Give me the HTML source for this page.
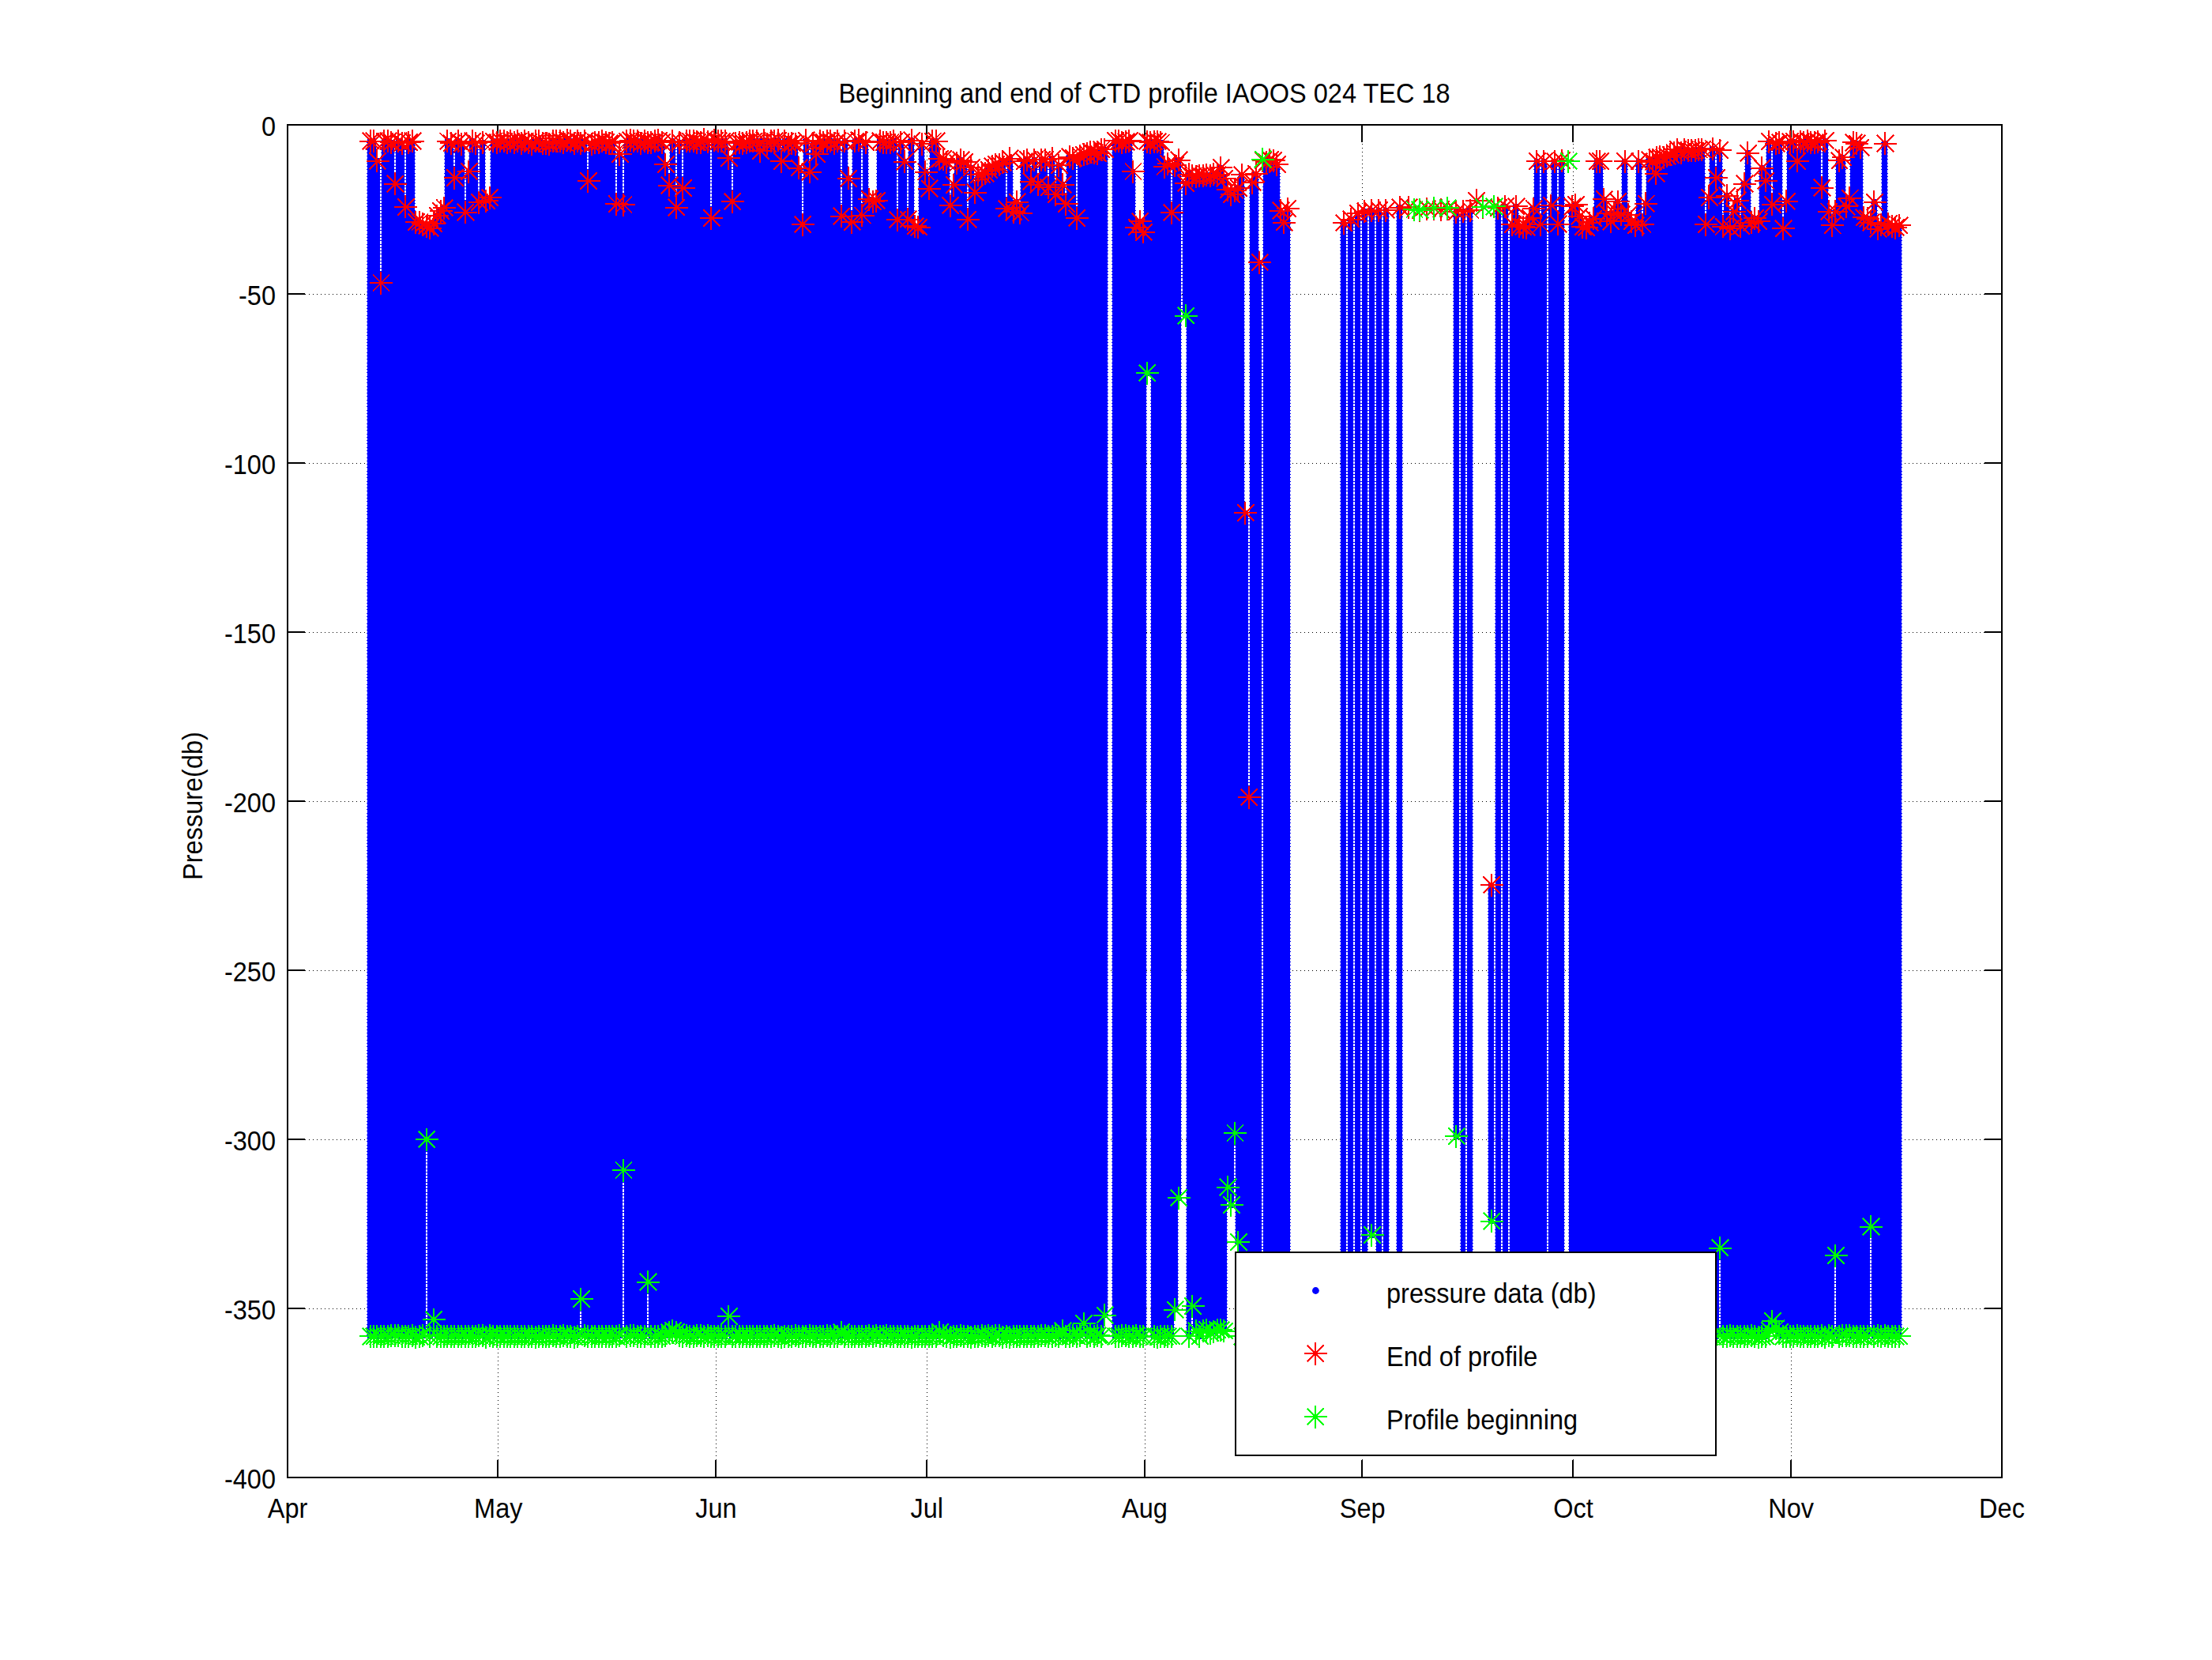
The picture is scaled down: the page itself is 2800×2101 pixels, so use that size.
<!DOCTYPE html>
<html lang="en"><head><meta charset="utf-8"><title>Beginning and end of CTD profile IAOOS 024 TEC 18</title>
<style>html,body{margin:0;padding:0;background:#fff}body{width:2800px;height:2101px;overflow:hidden}svg{display:block}text{font-family:"Liberation Sans",Arial,Helvetica,sans-serif;font-size:35.4px;fill:#000}</style></head><body>
<svg width="2800" height="2101" viewBox="0 0 2800 2101">
<rect width="2800" height="2101" fill="#fff"/>
<path d="M630.5 182V1848M906.5 182V1848M1173.5 182V1848M1449.5 182V1848M1724.5 182V1848M1991.5 182V1848M2267.5 182V1848M386 372.5H2512M386 586.5H2512M386 800.5H2512M386 1014.5H2512M386 1228.5H2512M386 1442.5H2512M386 1656.5H2512" fill="none" stroke="#000" stroke-width="1" stroke-dasharray="1 4" shape-rendering="crispEdges"/>
<rect x="364" y="158" width="2170" height="1712" fill="none" stroke="#000" stroke-width="2" shape-rendering="crispEdges"/>
<path d="M630 158v22M630 1870v-22M906 158v22M906 1870v-22M1173 158v22M1173 1870v-22M1449 158v22M1449 1870v-22M1724 158v22M1724 1870v-22M1991 158v22M1991 1870v-22M2267 158v22M2267 1870v-22M364 372h22M2534 372h-22M364 586h22M2534 586h-22M364 800h22M2534 800h-22M364 1014h22M2534 1014h-22M364 1228h22M2534 1228h-22M364 1442h22M2534 1442h-22M364 1656h22M2534 1656h-22" fill="none" stroke="#000" stroke-width="2" shape-rendering="crispEdges"/>
<defs><pattern id="tk" patternUnits="userSpaceOnUse" width="10" height="30"><rect x="0" y="0" width="10" height="1" fill="#0000ff" shape-rendering="crispEdges"/><rect x="0" y="4.3" width="10" height="1" fill="#0000ff" shape-rendering="crispEdges"/><rect x="0" y="8.6" width="10" height="1" fill="#0000ff" shape-rendering="crispEdges"/><rect x="0" y="12.9" width="10" height="1" fill="#0000ff" shape-rendering="crispEdges"/><rect x="0" y="17.1" width="10" height="1" fill="#0000ff" shape-rendering="crispEdges"/><rect x="0" y="21.4" width="10" height="1" fill="#0000ff" shape-rendering="crispEdges"/><rect x="0" y="25.7" width="10" height="1" fill="#0000ff" shape-rendering="crispEdges"/></pattern></defs>
<path d="M464.1 177.1H472.9V1692.9H464.1ZM468.5 177.1H477.4V1692.9H468.5ZM472.9 202.2H481.8V1692.9H472.9ZM477.4 356.5H486.3V1692.9H477.4ZM481.8 177.1H490.7V1692.9H481.8ZM486.3 177.1H495.2V1692.9H486.3ZM490.7 178.5H499.6V1691.9H490.7ZM495.2 231.1H504.1V1691.9H495.2ZM499.6 177.1H508.5V1691.9H499.6ZM504.1 179.6H513V1692.9H504.1ZM508.5 260.4H517.4V1692.9H508.5ZM513 178.5H521.9V1692.9H513ZM517.4 177.1H526.3V1691.9H517.4ZM521.9 279.5H530.8V1693.9H521.9ZM526.3 279.5H535.2V1692.9H526.3ZM530.8 281.5H539.7V1691.9H530.8ZM535.2 284.5H544.1V1443.5H535.2ZM539.7 287H548.6V1692.9H539.7ZM544.1 281.5H553V1671.5H544.1ZM548.6 271.5H557.5V1692.9H548.6ZM553 265.5H561.9V1692.9H553ZM557.5 261.5H566.4V1692.9H557.5ZM561.9 177.1H570.8V1692.9H561.9ZM566.4 179.6H575.3V1692.9H566.4ZM570.8 223.5H579.7V1692.9H570.8ZM575.3 177.1H584.2V1692.9H575.3ZM579.7 180.7H588.6V1692.9H579.7ZM584.2 267.2H593.1V1692.9H584.2ZM588.6 215.5H597.5V1692.9H588.6ZM593.1 177.1H602V1692.9H593.1ZM597.5 179.6H606.4V1692.9H597.5ZM601.9 254.5H610.8V1691.9H601.9ZM606.4 178.5H615.3V1691.9H606.4ZM610.8 252.5H619.7V1693.9H610.8ZM615.3 248.5H624.2V1691.9H615.3ZM619.7 177.1H628.6V1692.9H619.7ZM624.2 178.5H633.1V1692.9H624.2ZM628.6 177.1H637.5V1692.9H628.6ZM633.1 177.1H642V1692.9H633.1ZM637.5 178.5H646.4V1692.9H637.5ZM642 177.1H650.9V1692.9H642ZM646.4 178.5H655.3V1692.9H646.4ZM650.9 177.1H659.8V1692.9H650.9ZM655.3 179.6H664.2V1692.9H655.3ZM659.8 177.1H668.7V1692.9H659.8ZM664.2 178.5H673.1V1692.9H664.2ZM668.7 180.7H677.6V1692.9H668.7ZM673.1 177.1H682V1693.9H673.1ZM677.6 177.1H686.5V1692.9H677.6ZM682 179.6H690.9V1692.9H682ZM686.5 179.6H695.4V1692.9H686.5ZM690.9 180.7H699.8V1692.9H690.9ZM695.4 177.1H704.3V1691.9H695.4ZM699.8 177.1H708.7V1692.9H699.8ZM704.3 177.1H713.2V1692.9H704.3ZM708.7 178.5H717.6V1691.9H708.7ZM713.2 176.1H722.1V1692.9H713.2ZM717.6 177.1H726.5V1692.9H717.6ZM722.1 179.6H731V1693.9H722.1ZM726.5 177.1H735.4V1692.9H726.5ZM730.9 179.6H739.8V1645.5H730.9ZM735.4 177.1H744.3V1691.9H735.4ZM739.8 227.5H748.7V1692.9H739.8ZM744.3 180.7H753.2V1692.9H744.3ZM748.7 178.5H757.6V1692.9H748.7ZM753.2 178.5H762.1V1692.9H753.2ZM757.6 177.1H766.5V1692.9H757.6ZM762.1 178.5H771V1692.9H762.1ZM766.5 179.6H775.4V1692.9H766.5ZM771 178.5H779.9V1692.9H771ZM775.4 256.5H784.3V1692.9H775.4ZM779.9 193.5H788.8V1691.9H779.9ZM784.3 257.5H793.2V1482.5H784.3ZM788.8 177.1H797.7V1692.9H788.8ZM793.2 176.1H802.1V1691.9H793.2ZM797.7 177.1H806.6V1691.9H797.7ZM802.1 177.1H811V1692.9H802.1ZM806.6 179.6H815.5V1692.9H806.6ZM811 177.1H819.9V1692.9H811ZM815.5 178.5H824.4V1624H815.5ZM819.9 178.5H828.8V1692.9H819.9ZM824.4 177.1H833.3V1692.9H824.4ZM828.8 176.1H837.7V1692.9H828.8ZM833.3 178.5H842.2V1692.9H833.3ZM837.7 206.5H846.6V1691.9H837.7ZM842.2 233H851.1V1687.5H842.2ZM846.6 177.1H855.5V1685.5H846.6ZM851.1 261H860V1687.5H851.1ZM855.5 178.5H864.4V1691.9H855.5ZM859.9 236.5H868.8V1692.9H859.9ZM864.4 177.1H873.3V1691.9H864.4ZM868.8 177.1H877.7V1692.9H868.8ZM873.3 177.1H882.2V1692.9H873.3ZM877.7 178.5H886.6V1691.9H877.7ZM882.2 178.5H891.1V1691.9H882.2ZM886.6 174.6H895.5V1692.9H886.6ZM891.1 178.2H900V1691.9H891.1ZM895.5 274.5H904.4V1692.9H895.5ZM900 176H908.9V1692.9H900ZM904.4 177.1H913.3V1692.9H904.4ZM908.9 177.1H917.8V1692.9H908.9ZM913.3 177.1H922.2V1692.9H913.3ZM917.8 198.5H926.7V1667.5H917.8ZM922.2 253.5H931.1V1692.9H922.2ZM926.7 179.6H935.6V1692.9H926.7ZM931.1 178.5H940V1692.9H931.1ZM935.6 179.6H944.5V1692.9H935.6ZM940 178.5H948.9V1692.9H940ZM944.5 177.1H953.4V1692.9H944.5ZM948.9 177.1H957.8V1692.9H948.9ZM953.4 177.1H962.3V1692.9H953.4ZM957.8 189.5H966.7V1692.9H957.8ZM962.3 176.1H971.2V1692.9H962.3ZM966.7 180.7H975.6V1692.9H966.7ZM971.2 177.1H980.1V1692.9H971.2ZM975.6 177.1H984.5V1691.9H975.6ZM980.1 176.1H989V1692.9H980.1ZM984.5 202.5H993.4V1693.9H984.5ZM988.9 177.1H997.8V1692.9H988.9ZM993.4 180.7H1002.3V1692.9H993.4ZM997.8 179.6H1006.7V1692.9H997.8ZM1002.3 180.7H1011.2V1691.9H1002.3ZM1006.7 211H1015.6V1692.9H1006.7ZM1011.2 282.5H1020.1V1692.9H1011.2ZM1015.6 176.1H1024.5V1692.9H1015.6ZM1020.1 216H1029V1691.9H1020.1ZM1024.5 180.7H1033.4V1692.9H1024.5ZM1029 193.5H1037.9V1692.9H1029ZM1033.4 177.1H1042.3V1692.9H1033.4ZM1037.9 178.5H1046.8V1692.9H1037.9ZM1042.3 177.1H1051.2V1691.9H1042.3ZM1046.8 177.1H1055.7V1692.9H1046.8ZM1051.2 179.6H1060.1V1692.9H1051.2ZM1055.7 177.1H1064.6V1692.9H1055.7ZM1060.1 272.2H1069V1687.5H1060.1ZM1064.6 177.1H1073.5V1692.9H1064.6ZM1069 224.2H1077.9V1692.9H1069ZM1073.5 279.5H1082.4V1692.9H1073.5ZM1077.9 177.1H1086.8V1692.9H1077.9ZM1082.4 176.1H1091.3V1692.9H1082.4ZM1086.8 271H1095.7V1692.9H1086.8ZM1091.3 178.5H1100.2V1692.9H1091.3ZM1095.7 250.5H1104.6V1691.9H1095.7ZM1100.2 253.5H1109.1V1692.9H1100.2ZM1104.6 252.5H1113.5V1691.9H1104.6ZM1109.1 177.1H1118V1692.9H1109.1ZM1113.5 178.5H1122.4V1692.9H1113.5ZM1118 178.5H1126.9V1691.9H1118ZM1122.4 178.5H1131.3V1692.9H1122.4ZM1126.8 177.1H1135.7V1692.9H1126.8ZM1131.3 276.5H1140.2V1692.9H1131.3ZM1135.7 178.5H1144.6V1692.9H1135.7ZM1140.2 203H1149.1V1692.9H1140.2ZM1144.6 276H1153.5V1692.9H1144.6ZM1149.1 176.1H1158V1693.9H1149.1ZM1153.5 284.5H1162.4V1692.9H1153.5ZM1158 286H1166.9V1692.9H1158ZM1162.4 180.7H1171.3V1692.9H1162.4ZM1166.9 216H1175.8V1692.9H1166.9ZM1171.3 237.2H1180.2V1692.9H1171.3ZM1175.8 177.1H1184.7V1692.9H1175.8ZM1180.2 177.1H1189.1V1692.9H1180.2ZM1184.7 199.5H1193.6V1687.5H1184.7ZM1189.1 199.5H1198V1691.9H1189.1ZM1193.6 203.5H1202.5V1692.9H1193.6ZM1198 258.5H1206.9V1693.9H1198ZM1202.5 232.5H1211.4V1692.9H1202.5ZM1206.9 204.9H1215.8V1692.9H1206.9ZM1211.4 201H1220.3V1691.9H1211.4ZM1215.8 203.5H1224.7V1692.9H1215.8ZM1220.3 276.3H1229.2V1692.9H1220.3ZM1224.7 210.6H1233.6V1693.9H1224.7ZM1229.2 242.2H1238.1V1692.9H1229.2ZM1233.6 219.5H1242.5V1692.9H1233.6ZM1238.1 219.6H1247V1691.9H1238.1ZM1242.5 218.4H1251.4V1692.9H1242.5ZM1247 213.6H1255.9V1691.9H1247ZM1251.4 208.8H1260.3V1692.9H1251.4ZM1255.8 206.5H1264.7V1691.9H1255.8ZM1260.3 206.7H1269.2V1691.9H1260.3ZM1264.7 204.4H1273.6V1693.9H1264.7ZM1269.2 262.5H1278.1V1692.9H1269.2ZM1273.6 199H1282.5V1693.9H1273.6ZM1278.1 266.9H1287V1692.9H1278.1ZM1282.5 254.2H1291.4V1692.9H1282.5ZM1287 268.1H1295.9V1692.9H1287ZM1291.4 202.9H1300.3V1692.9H1291.4ZM1295.9 200.5H1304.8V1692.9H1295.9ZM1300.3 228.2H1309.2V1692.9H1300.3ZM1304.8 200.5H1313.7V1692.9H1304.8ZM1309.2 232H1318.1V1692.9H1309.2ZM1313.7 200.5H1322.6V1691.9H1313.7ZM1318.1 200.5H1327V1691.9H1318.1ZM1322.6 235.8H1331.5V1692.9H1322.6ZM1327 199.1H1335.9V1692.9H1327ZM1331.5 244.7H1340.4V1691.9H1331.5ZM1335.9 207.5H1344.8V1692.9H1335.9ZM1340.4 232H1349.3V1685.8H1340.4ZM1344.8 256.7H1353.7V1692.9H1344.8ZM1349.3 197.1H1358.2V1692.9H1349.3ZM1353.7 198.5H1362.6V1691.9H1353.7ZM1358.2 274.5H1367.1V1692.9H1358.2ZM1362.6 195.8H1371.5V1691.9H1362.6ZM1367.1 194.4H1376V1676.5H1367.1ZM1371.5 193.1H1380.4V1692.9H1371.5ZM1376 190.6H1384.9V1691.9H1376ZM1380.4 191.7H1389.3V1692.9H1380.4ZM1384.8 192.9H1393.7V1691.9H1384.8ZM1389.3 187.6H1398.2V1692.9H1389.3ZM1393.7 187.7H1402.6V1666H1393.7ZM1407.1 176.5H1416V1692.9H1407.1ZM1411.5 176.5H1420.4V1692.9H1411.5ZM1416 179H1424.9V1691.9H1416ZM1420.4 177.9H1429.3V1691.9H1420.4ZM1424.9 176.5H1433.8V1692.9H1424.9ZM1429.3 215.5H1438.2V1692.9H1429.3ZM1433.8 286H1442.7V1691.9H1433.8ZM1438.2 278.5H1447.1V1692.9H1438.2ZM1442.7 292.2H1451.6V1692.9H1442.7ZM1447.1 177.5H1456V473.5H1447.1ZM1451.6 178.9H1460.5V473.5H1451.6ZM1456 177.5H1464.9V1692.9H1456ZM1460.5 177.5H1469.4V1693.9H1460.5ZM1464.9 178.9H1473.8V1692.9H1464.9ZM1469.4 209.5H1478.3V1692.9H1469.4ZM1473.8 205.5H1482.7V1692.9H1473.8ZM1478.3 267.5H1487.2V1692.9H1478.3ZM1482.7 207.5H1491.6V1659H1482.7ZM1487.2 201H1496.1V1517.5H1487.2ZM1496.1 230.5H1505V401H1496.1ZM1500.5 219.1H1509.4V1692.9H1500.5ZM1505 221.1H1513.9V1654.5H1505ZM1509.4 221.9H1518.3V1686H1509.4ZM1513.8 220.9H1522.7V1692.9H1513.8ZM1518.3 220.6H1527.2V1686H1518.3ZM1522.7 220.3H1531.6V1684.5H1522.7ZM1527.2 221.3H1536.1V1688.5H1527.2ZM1531.6 219.3H1540.5V1687H1531.6ZM1536.1 219.9H1545V1684.5H1536.1ZM1540.5 210.5H1549.4V1684.5H1540.5ZM1545 224H1553.9V1686H1545ZM1549.4 238.5H1558.3V1504H1549.4ZM1553.9 244.5H1562.8V1526.5H1553.9ZM1558.3 239.5H1567.2V1435.5H1558.3ZM1562.8 236.5H1571.7V1573.5H1562.8ZM1567.2 219.5H1576.1V1692.9H1567.2ZM1571.7 647.5H1580.6V1692.9H1571.7ZM1576.1 1007.5H1585V1692.9H1576.1ZM1580.6 229.5H1589.5V1691.9H1580.6ZM1585 218.5H1593.9V1692.9H1585ZM1589.5 330.5H1598.4V1692.9H1589.5ZM1598.4 203.5H1607.3V1692.9H1598.4ZM1602.8 200.5H1611.7V1691.9H1602.8ZM1607.3 201.5H1616.2V1691.9H1607.3ZM1611.7 206.5H1620.6V1692.9H1611.7ZM1616.2 265H1625.1V1692.9H1616.2ZM1620.6 280.1H1629.5V1692.9H1620.6ZM1625.1 262.5H1634V1692.9H1625.1ZM1696.2 280.5H1705.1V1691.9H1696.2ZM1705.1 276H1714V1692.9H1705.1ZM1714 268.5H1722.9V1692.9H1714ZM1722.9 266H1731.8V1691.9H1722.9ZM1731.8 264.5H1740.7V1564.5H1731.8ZM1740.7 264.5H1749.6V1692.9H1740.7ZM1749.6 264.5H1758.5V1692.9H1749.6ZM1767.4 261H1776.3V1692.9H1767.4ZM1838.6 266.5H1847.5V1439.5H1838.6ZM1847.5 266H1856.4V1692.9H1847.5ZM1856.4 264.5H1865.3V1692.9H1856.4ZM1883.1 1118.5H1892V1547H1883.1ZM1892 261.5H1900.9V1692.9H1892ZM1900.9 259.5H1909.8V1692.9H1900.9ZM1909.7 282.5H1918.6V1692.9H1909.7ZM1914.2 259.9H1923.1V1692.9H1914.2ZM1918.6 284.5H1927.5V1691.9H1918.6ZM1923.1 285.5H1932V1691.9H1923.1ZM1927.5 286.5H1936.4V1692.9H1927.5ZM1932 274.5H1940.9V1692.9H1932ZM1936.4 262.5H1945.3V1692.9H1936.4ZM1940.9 202.5H1949.8V1692.9H1940.9ZM1945.3 282.5H1954.2V1691.9H1945.3ZM1949.8 202.5H1958.7V1693.9H1949.8ZM1958.7 258.5H1967.6V1692.9H1958.7ZM1963.1 202.5H1972V1691.9H1963.1ZM1967.6 282H1976.5V1692.9H1967.6ZM1972 201.5H1980.9V1691.9H1972ZM1985.4 259.9H1994.3V1691.9H1985.4ZM1989.8 257.5H1998.7V1692.9H1989.8ZM1994.3 272.5H2003.2V1692.9H1994.3ZM1998.7 285.5H2007.6V1692.9H1998.7ZM2003.2 286.5H2012.1V1692.9H2003.2ZM2007.6 280.5H2016.5V1692.9H2007.6ZM2012.1 275.1H2021V1692.9H2012.1ZM2016.5 202.5H2025.4V1692.9H2016.5ZM2021 202.5H2029.9V1692.9H2021ZM2025.4 250.5H2034.3V1692.9H2025.4ZM2029.9 268.5H2038.8V1691.9H2029.9ZM2034.3 278.9H2043.2V1691.9H2034.3ZM2038.7 268.5H2047.6V1692.9H2038.7ZM2043.2 253.5H2052.1V1692.9H2043.2ZM2047.6 270H2056.5V1692.9H2047.6ZM2052.1 202.5H2061V1692.9H2052.1ZM2056.5 270H2065.4V1692.9H2056.5ZM2061 278.5H2069.9V1692.9H2061ZM2065.4 283.9H2074.3V1691.9H2065.4ZM2069.9 202.9H2078.8V1691.9H2069.9ZM2074.3 282.5H2083.2V1691.9H2074.3ZM2078.8 256.1H2087.7V1692.9H2078.8ZM2083.2 201.1H2092.1V1691.9H2083.2ZM2087.7 203.2H2096.6V1692.9H2087.7ZM2092.1 197.5H2101V1691.9H2092.1ZM2096.6 197.2H2105.5V1692.9H2096.6ZM2101 197.9H2109.9V1692.9H2101ZM2105.5 196.1H2114.4V1691.9H2105.5ZM2109.9 194.3H2118.8V1692.9H2109.9ZM2114.4 191.5H2123.3V1692.9H2114.4ZM2118.8 187.7H2127.7V1692.9H2118.8ZM2123.3 191.6H2132.2V1692.9H2123.3ZM2127.7 187.7H2136.6V1692.9H2127.7ZM2132.2 189.1H2141.1V1691.9H2132.2ZM2136.6 189.1H2145.5V1692.9H2136.6ZM2141.1 189.1H2150V1692.9H2141.1ZM2145.5 187.7H2154.4V1692.9H2145.5ZM2150 187.7H2158.9V1692.9H2150ZM2154.4 282.5H2163.3V1692.9H2154.4ZM2158.9 248.5H2167.8V1693.9H2158.9ZM2163.3 186.5H2172.2V1692.9H2163.3ZM2167.7 223.5H2176.6V1692.9H2167.7ZM2172.2 188.5H2181.1V1581H2172.2ZM2176.6 285.2H2185.5V1692.9H2176.6ZM2181.1 246H2190V1692.9H2181.1ZM2185.5 287.5H2194.4V1691.9H2185.5ZM2190 266.2H2198.9V1692.9H2190ZM2194.4 252.3H2203.3V1692.9H2194.4ZM2198.9 284.5H2207.8V1692.9H2198.9ZM2203.3 231H2212.2V1692.9H2203.3ZM2207.8 192.2H2216.7V1692.9H2207.8ZM2212.2 280.1H2221.1V1691.9H2212.2ZM2216.7 274.5H2225.6V1692.9H2216.7ZM2221.1 278.9H2230V1693.9H2221.1ZM2225.6 211.2H2234.5V1692.9H2225.6ZM2230 227.2H2238.9V1692.9H2230ZM2234.5 177.5H2243.4V1685.5H2234.5ZM2238.9 257.4H2247.8V1673.5H2238.9ZM2243.4 180H2252.3V1682.5H2243.4ZM2247.8 178.9H2256.7V1687.5H2247.8ZM2252.3 287.7H2261.2V1692.9H2252.3ZM2256.7 253.3H2265.6V1692.9H2256.7ZM2261.2 177.5H2270.1V1692.9H2261.2ZM2265.6 177.5H2274.5V1692.9H2265.6ZM2270.1 202.3H2279V1691.9H2270.1ZM2274.5 177.5H2283.4V1692.9H2274.5ZM2279 178.9H2287.9V1692.9H2279ZM2283.4 176.5H2292.3V1692.9H2283.4ZM2287.9 178.9H2296.8V1692.9H2287.9ZM2292.3 178.9H2301.2V1692.9H2292.3ZM2296.7 177.5H2305.6V1692.9H2296.7ZM2301.2 236.1H2310.1V1691.9H2301.2ZM2305.6 176.5H2314.5V1693.9H2305.6ZM2310.1 266.2H2319V1691.9H2310.1ZM2314.5 283.7H2323.4V1692.9H2314.5ZM2319 266.2H2327.9V1590.5H2319ZM2323.4 201.7H2332.3V1692.9H2323.4ZM2327.9 197.9H2336.8V1691.9H2327.9ZM2332.3 259.9H2341.2V1691.9H2332.3ZM2336.8 249.1H2345.7V1691.9H2336.8ZM2341.2 178.9H2350.1V1692.9H2341.2ZM2345.7 180.1H2354.6V1692.9H2345.7ZM2350.1 185.2H2359V1692.9H2350.1ZM2354.6 273.8H2363.5V1692.9H2354.6ZM2359 275.1H2367.9V1692.9H2359ZM2363.5 280.1H2372.4V1554H2363.5ZM2367.9 254.2H2376.8V1692.9H2367.9ZM2372.4 288.4H2381.3V1691.9H2372.4ZM2376.8 282.7H2385.7V1692.9H2376.8ZM2381.3 180.1H2390.2V1691.9H2381.3ZM2385.7 281.5H2394.6V1692.9H2385.7ZM2390.2 284.5H2399.1V1692.9H2390.2ZM2394.6 286.5H2403.5V1692.9H2394.6ZM2399.1 283.9H2408V1692.9H2399.1Z" fill="url(#tk)" shape-rendering="crispEdges"/>
<path d="M465.1 175.1H471.9V1694.9H465.1ZM469.5 175.1H476.4V1694.9H469.5ZM473.9 200.2H480.8V1694.9H473.9ZM478.4 354.5H485.3V1694.9H478.4ZM482.8 175.1H489.7V1694.9H482.8ZM487.3 175.1H494.2V1694.9H487.3ZM491.7 176.5H498.6V1693.9H491.7ZM496.2 229.1H503.1V1693.9H496.2ZM500.6 175.1H507.5V1693.9H500.6ZM505.1 177.6H512V1694.9H505.1ZM509.5 258.4H516.4V1694.9H509.5ZM514 176.5H520.9V1694.9H514ZM518.4 175.1H525.3V1693.9H518.4ZM522.9 277.5H529.8V1695.9H522.9ZM527.3 277.5H534.2V1694.9H527.3ZM531.8 279.5H538.7V1693.9H531.8ZM536.2 282.5H543.1V1445.5H536.2ZM540.7 285H547.6V1694.9H540.7ZM545.1 279.5H552V1673.5H545.1ZM549.6 269.5H556.5V1694.9H549.6ZM554 263.5H560.9V1694.9H554ZM558.5 259.5H565.4V1694.9H558.5ZM562.9 175.1H569.8V1694.9H562.9ZM567.4 177.6H574.3V1694.9H567.4ZM571.8 221.5H578.7V1694.9H571.8ZM576.3 175.1H583.2V1694.9H576.3ZM580.7 178.7H587.6V1694.9H580.7ZM585.2 265.2H592.1V1694.9H585.2ZM589.6 213.5H596.5V1694.9H589.6ZM594.1 175.1H601V1694.9H594.1ZM598.5 177.6H605.4V1694.9H598.5ZM602.9 252.5H609.8V1693.9H602.9ZM607.4 176.5H614.3V1693.9H607.4ZM611.8 250.5H618.7V1695.9H611.8ZM616.3 246.5H623.2V1693.9H616.3ZM620.7 175.1H627.6V1694.9H620.7ZM625.2 176.5H632.1V1694.9H625.2ZM629.6 175.1H636.5V1694.9H629.6ZM634.1 175.1H641V1694.9H634.1ZM638.5 176.5H645.4V1694.9H638.5ZM643 175.1H649.9V1694.9H643ZM647.4 176.5H654.3V1694.9H647.4ZM651.9 175.1H658.8V1694.9H651.9ZM656.3 177.6H663.2V1694.9H656.3ZM660.8 175.1H667.7V1694.9H660.8ZM665.2 176.5H672.1V1694.9H665.2ZM669.7 178.7H676.6V1694.9H669.7ZM674.1 175.1H681V1695.9H674.1ZM678.6 175.1H685.5V1694.9H678.6ZM683 177.6H689.9V1694.9H683ZM687.5 177.6H694.4V1694.9H687.5ZM691.9 178.7H698.8V1694.9H691.9ZM696.4 175.1H703.3V1693.9H696.4ZM700.8 175.1H707.7V1694.9H700.8ZM705.3 175.1H712.2V1694.9H705.3ZM709.7 176.5H716.6V1693.9H709.7ZM714.2 174.1H721.1V1694.9H714.2ZM718.6 175.1H725.5V1694.9H718.6ZM723.1 177.6H730V1695.9H723.1ZM727.5 175.1H734.4V1694.9H727.5ZM731.9 177.6H738.8V1647.5H731.9ZM736.4 175.1H743.3V1693.9H736.4ZM740.8 225.5H747.7V1694.9H740.8ZM745.3 178.7H752.2V1694.9H745.3ZM749.7 176.5H756.6V1694.9H749.7ZM754.2 176.5H761.1V1694.9H754.2ZM758.6 175.1H765.5V1694.9H758.6ZM763.1 176.5H770V1694.9H763.1ZM767.5 177.6H774.4V1694.9H767.5ZM772 176.5H778.9V1694.9H772ZM776.4 254.5H783.3V1694.9H776.4ZM780.9 191.5H787.8V1693.9H780.9ZM785.3 255.5H792.2V1484.5H785.3ZM789.8 175.1H796.7V1694.9H789.8ZM794.2 174.1H801.1V1693.9H794.2ZM798.7 175.1H805.6V1693.9H798.7ZM803.1 175.1H810V1694.9H803.1ZM807.6 177.6H814.5V1694.9H807.6ZM812 175.1H818.9V1694.9H812ZM816.5 176.5H823.4V1626H816.5ZM820.9 176.5H827.8V1694.9H820.9ZM825.4 175.1H832.3V1694.9H825.4ZM829.8 174.1H836.7V1694.9H829.8ZM834.3 176.5H841.2V1694.9H834.3ZM838.7 204.5H845.6V1693.9H838.7ZM843.2 231H850.1V1689.5H843.2ZM847.6 175.1H854.5V1687.5H847.6ZM852.1 259H859V1689.5H852.1ZM856.5 176.5H863.4V1693.9H856.5ZM860.9 234.5H867.8V1694.9H860.9ZM865.4 175.1H872.3V1693.9H865.4ZM869.8 175.1H876.7V1694.9H869.8ZM874.3 175.1H881.2V1694.9H874.3ZM878.7 176.5H885.6V1693.9H878.7ZM883.2 176.5H890.1V1693.9H883.2ZM887.6 172.6H894.5V1694.9H887.6ZM892.1 176.2H899V1693.9H892.1ZM896.5 272.5H903.4V1694.9H896.5ZM901 174H907.9V1694.9H901ZM905.4 175.1H912.3V1694.9H905.4ZM909.9 175.1H916.8V1694.9H909.9ZM914.3 175.1H921.2V1694.9H914.3ZM918.8 196.5H925.7V1669.5H918.8ZM923.2 251.5H930.1V1694.9H923.2ZM927.7 177.6H934.6V1694.9H927.7ZM932.1 176.5H939V1694.9H932.1ZM936.6 177.6H943.5V1694.9H936.6ZM941 176.5H947.9V1694.9H941ZM945.5 175.1H952.4V1694.9H945.5ZM949.9 175.1H956.8V1694.9H949.9ZM954.4 175.1H961.3V1694.9H954.4ZM958.8 187.5H965.7V1694.9H958.8ZM963.3 174.1H970.2V1694.9H963.3ZM967.7 178.7H974.6V1694.9H967.7ZM972.2 175.1H979.1V1694.9H972.2ZM976.6 175.1H983.5V1693.9H976.6ZM981.1 174.1H988V1694.9H981.1ZM985.5 200.5H992.4V1695.9H985.5ZM989.9 175.1H996.8V1694.9H989.9ZM994.4 178.7H1001.3V1694.9H994.4ZM998.8 177.6H1005.7V1694.9H998.8ZM1003.3 178.7H1010.2V1693.9H1003.3ZM1007.7 209H1014.6V1694.9H1007.7ZM1012.2 280.5H1019.1V1694.9H1012.2ZM1016.6 174.1H1023.5V1694.9H1016.6ZM1021.1 214H1028V1693.9H1021.1ZM1025.5 178.7H1032.4V1694.9H1025.5ZM1030 191.5H1036.9V1694.9H1030ZM1034.4 175.1H1041.3V1694.9H1034.4ZM1038.9 176.5H1045.8V1694.9H1038.9ZM1043.3 175.1H1050.2V1693.9H1043.3ZM1047.8 175.1H1054.7V1694.9H1047.8ZM1052.2 177.6H1059.1V1694.9H1052.2ZM1056.7 175.1H1063.6V1694.9H1056.7ZM1061.1 270.2H1068V1689.5H1061.1ZM1065.6 175.1H1072.5V1694.9H1065.6ZM1070 222.2H1076.9V1694.9H1070ZM1074.5 277.5H1081.4V1694.9H1074.5ZM1078.9 175.1H1085.8V1694.9H1078.9ZM1083.4 174.1H1090.3V1694.9H1083.4ZM1087.8 269H1094.7V1694.9H1087.8ZM1092.3 176.5H1099.2V1694.9H1092.3ZM1096.7 248.5H1103.6V1693.9H1096.7ZM1101.2 251.5H1108.1V1694.9H1101.2ZM1105.6 250.5H1112.5V1693.9H1105.6ZM1110.1 175.1H1117V1694.9H1110.1ZM1114.5 176.5H1121.4V1694.9H1114.5ZM1119 176.5H1125.9V1693.9H1119ZM1123.4 176.5H1130.3V1694.9H1123.4ZM1127.8 175.1H1134.7V1694.9H1127.8ZM1132.3 274.5H1139.2V1694.9H1132.3ZM1136.7 176.5H1143.6V1694.9H1136.7ZM1141.2 201H1148.1V1694.9H1141.2ZM1145.6 274H1152.5V1694.9H1145.6ZM1150.1 174.1H1157V1695.9H1150.1ZM1154.5 282.5H1161.4V1694.9H1154.5ZM1159 284H1165.9V1694.9H1159ZM1163.4 178.7H1170.3V1694.9H1163.4ZM1167.9 214H1174.8V1694.9H1167.9ZM1172.3 235.2H1179.2V1694.9H1172.3ZM1176.8 175.1H1183.7V1694.9H1176.8ZM1181.2 175.1H1188.1V1694.9H1181.2ZM1185.7 197.5H1192.6V1689.5H1185.7ZM1190.1 197.5H1197V1693.9H1190.1ZM1194.6 201.5H1201.5V1694.9H1194.6ZM1199 256.5H1205.9V1695.9H1199ZM1203.5 230.5H1210.4V1694.9H1203.5ZM1207.9 202.9H1214.8V1694.9H1207.9ZM1212.4 199H1219.3V1693.9H1212.4ZM1216.8 201.5H1223.7V1694.9H1216.8ZM1221.3 274.3H1228.2V1694.9H1221.3ZM1225.7 208.6H1232.6V1695.9H1225.7ZM1230.2 240.2H1237.1V1694.9H1230.2ZM1234.6 217.5H1241.5V1694.9H1234.6ZM1239.1 217.6H1246V1693.9H1239.1ZM1243.5 216.4H1250.4V1694.9H1243.5ZM1248 211.6H1254.9V1693.9H1248ZM1252.4 206.8H1259.3V1694.9H1252.4ZM1256.8 204.5H1263.7V1693.9H1256.8ZM1261.3 204.7H1268.2V1693.9H1261.3ZM1265.7 202.4H1272.6V1695.9H1265.7ZM1270.2 260.5H1277.1V1694.9H1270.2ZM1274.6 197H1281.5V1695.9H1274.6ZM1279.1 264.9H1286V1694.9H1279.1ZM1283.5 252.2H1290.4V1694.9H1283.5ZM1288 266.1H1294.9V1694.9H1288ZM1292.4 200.9H1299.3V1694.9H1292.4ZM1296.9 198.5H1303.8V1694.9H1296.9ZM1301.3 226.2H1308.2V1694.9H1301.3ZM1305.8 198.5H1312.7V1694.9H1305.8ZM1310.2 230H1317.1V1694.9H1310.2ZM1314.7 198.5H1321.6V1693.9H1314.7ZM1319.1 198.5H1326V1693.9H1319.1ZM1323.6 233.8H1330.5V1694.9H1323.6ZM1328 197.1H1334.9V1694.9H1328ZM1332.5 242.7H1339.4V1693.9H1332.5ZM1336.9 205.5H1343.8V1694.9H1336.9ZM1341.4 230H1348.3V1687.8H1341.4ZM1345.8 254.7H1352.7V1694.9H1345.8ZM1350.3 195.1H1357.2V1694.9H1350.3ZM1354.7 196.5H1361.6V1693.9H1354.7ZM1359.2 272.5H1366.1V1694.9H1359.2ZM1363.6 193.8H1370.5V1693.9H1363.6ZM1368.1 192.4H1375V1678.5H1368.1ZM1372.5 191.1H1379.4V1694.9H1372.5ZM1377 188.6H1383.9V1693.9H1377ZM1381.4 189.7H1388.3V1694.9H1381.4ZM1385.8 190.9H1392.7V1693.9H1385.8ZM1390.3 185.6H1397.2V1694.9H1390.3ZM1394.7 185.7H1401.6V1668H1394.7ZM1408.1 174.5H1415V1694.9H1408.1ZM1412.5 174.5H1419.4V1694.9H1412.5ZM1417 177H1423.9V1693.9H1417ZM1421.4 175.9H1428.3V1693.9H1421.4ZM1425.9 174.5H1432.8V1694.9H1425.9ZM1430.3 213.5H1437.2V1694.9H1430.3ZM1434.8 284H1441.7V1693.9H1434.8ZM1439.2 276.5H1446.1V1694.9H1439.2ZM1443.7 290.2H1450.6V1694.9H1443.7ZM1448.1 175.5H1455V475.5H1448.1ZM1452.6 176.9H1459.5V475.5H1452.6ZM1457 175.5H1463.9V1694.9H1457ZM1461.5 175.5H1468.4V1695.9H1461.5ZM1465.9 176.9H1472.8V1694.9H1465.9ZM1470.4 207.5H1477.3V1694.9H1470.4ZM1474.8 203.5H1481.7V1694.9H1474.8ZM1479.3 265.5H1486.2V1694.9H1479.3ZM1483.7 205.5H1490.6V1661H1483.7ZM1488.2 199H1495.1V1519.5H1488.2ZM1497.1 228.5H1504V403H1497.1ZM1501.5 217.1H1508.4V1694.9H1501.5ZM1506 219.1H1512.9V1656.5H1506ZM1510.4 219.9H1517.3V1688H1510.4ZM1514.8 218.9H1521.7V1694.9H1514.8ZM1519.3 218.6H1526.2V1688H1519.3ZM1523.7 218.3H1530.6V1686.5H1523.7ZM1528.2 219.3H1535.1V1690.5H1528.2ZM1532.6 217.3H1539.5V1689H1532.6ZM1537.1 217.9H1544V1686.5H1537.1ZM1541.5 208.5H1548.4V1686.5H1541.5ZM1546 222H1552.9V1688H1546ZM1550.4 236.5H1557.3V1506H1550.4ZM1554.9 242.5H1561.8V1528.5H1554.9ZM1559.3 237.5H1566.2V1437.5H1559.3ZM1563.8 234.5H1570.7V1575.5H1563.8ZM1568.2 217.5H1575.1V1694.9H1568.2ZM1572.7 645.5H1579.6V1694.9H1572.7ZM1577.1 1005.5H1584V1694.9H1577.1ZM1581.6 227.5H1588.5V1693.9H1581.6ZM1586 216.5H1592.9V1694.9H1586ZM1590.5 328.5H1597.4V1694.9H1590.5ZM1599.4 201.5H1606.3V1694.9H1599.4ZM1603.8 198.5H1610.7V1693.9H1603.8ZM1608.3 199.5H1615.2V1693.9H1608.3ZM1612.7 204.5H1619.6V1694.9H1612.7ZM1617.2 263H1624.1V1694.9H1617.2ZM1621.6 278.1H1628.5V1694.9H1621.6ZM1626.1 260.5H1633V1694.9H1626.1ZM1697.2 278.5H1704.1V1693.9H1697.2ZM1706.1 274H1713V1694.9H1706.1ZM1715 266.5H1721.9V1694.9H1715ZM1723.9 264H1730.8V1693.9H1723.9ZM1732.8 262.5H1739.7V1566.5H1732.8ZM1741.7 262.5H1748.6V1694.9H1741.7ZM1750.6 262.5H1757.5V1694.9H1750.6ZM1768.4 259H1775.3V1694.9H1768.4ZM1839.6 264.5H1846.5V1441.5H1839.6ZM1848.5 264H1855.4V1694.9H1848.5ZM1857.4 262.5H1864.3V1694.9H1857.4ZM1884.1 1116.5H1891V1549H1884.1ZM1893 259.5H1899.9V1694.9H1893ZM1901.9 257.5H1908.8V1694.9H1901.9ZM1910.7 280.5H1917.6V1694.9H1910.7ZM1915.2 257.9H1922.1V1694.9H1915.2ZM1919.6 282.5H1926.5V1693.9H1919.6ZM1924.1 283.5H1931V1693.9H1924.1ZM1928.5 284.5H1935.4V1694.9H1928.5ZM1933 272.5H1939.9V1694.9H1933ZM1937.4 260.5H1944.3V1694.9H1937.4ZM1941.9 200.5H1948.8V1694.9H1941.9ZM1946.3 280.5H1953.2V1693.9H1946.3ZM1950.8 200.5H1957.7V1695.9H1950.8ZM1959.7 256.5H1966.6V1694.9H1959.7ZM1964.1 200.5H1971V1693.9H1964.1ZM1968.6 280H1975.5V1694.9H1968.6ZM1973 199.5H1979.9V1693.9H1973ZM1986.4 257.9H1993.3V1693.9H1986.4ZM1990.8 255.5H1997.7V1694.9H1990.8ZM1995.3 270.5H2002.2V1694.9H1995.3ZM1999.7 283.5H2006.6V1694.9H1999.7ZM2004.2 284.5H2011.1V1694.9H2004.2ZM2008.6 278.5H2015.5V1694.9H2008.6ZM2013.1 273.1H2020V1694.9H2013.1ZM2017.5 200.5H2024.4V1694.9H2017.5ZM2022 200.5H2028.9V1694.9H2022ZM2026.4 248.5H2033.3V1694.9H2026.4ZM2030.9 266.5H2037.8V1693.9H2030.9ZM2035.3 276.9H2042.2V1693.9H2035.3ZM2039.7 266.5H2046.6V1694.9H2039.7ZM2044.2 251.5H2051.1V1694.9H2044.2ZM2048.6 268H2055.5V1694.9H2048.6ZM2053.1 200.5H2060V1694.9H2053.1ZM2057.5 268H2064.4V1694.9H2057.5ZM2062 276.5H2068.9V1694.9H2062ZM2066.4 281.9H2073.3V1693.9H2066.4ZM2070.9 200.9H2077.8V1693.9H2070.9ZM2075.3 280.5H2082.2V1693.9H2075.3ZM2079.8 254.1H2086.7V1694.9H2079.8ZM2084.2 199.1H2091.1V1693.9H2084.2ZM2088.7 201.2H2095.6V1694.9H2088.7ZM2093.1 195.5H2100V1693.9H2093.1ZM2097.6 195.2H2104.5V1694.9H2097.6ZM2102 195.9H2108.9V1694.9H2102ZM2106.5 194.1H2113.4V1693.9H2106.5ZM2110.9 192.3H2117.8V1694.9H2110.9ZM2115.4 189.5H2122.3V1694.9H2115.4ZM2119.8 185.7H2126.7V1694.9H2119.8ZM2124.3 189.6H2131.2V1694.9H2124.3ZM2128.7 185.7H2135.6V1694.9H2128.7ZM2133.2 187.1H2140.1V1693.9H2133.2ZM2137.6 187.1H2144.5V1694.9H2137.6ZM2142.1 187.1H2149V1694.9H2142.1ZM2146.5 185.7H2153.4V1694.9H2146.5ZM2151 185.7H2157.9V1694.9H2151ZM2155.4 280.5H2162.3V1694.9H2155.4ZM2159.9 246.5H2166.8V1695.9H2159.9ZM2164.3 184.5H2171.2V1694.9H2164.3ZM2168.7 221.5H2175.6V1694.9H2168.7ZM2173.2 186.5H2180.1V1583H2173.2ZM2177.6 283.2H2184.5V1694.9H2177.6ZM2182.1 244H2189V1694.9H2182.1ZM2186.5 285.5H2193.4V1693.9H2186.5ZM2191 264.2H2197.9V1694.9H2191ZM2195.4 250.3H2202.3V1694.9H2195.4ZM2199.9 282.5H2206.8V1694.9H2199.9ZM2204.3 229H2211.2V1694.9H2204.3ZM2208.8 190.2H2215.7V1694.9H2208.8ZM2213.2 278.1H2220.1V1693.9H2213.2ZM2217.7 272.5H2224.6V1694.9H2217.7ZM2222.1 276.9H2229V1695.9H2222.1ZM2226.6 209.2H2233.5V1694.9H2226.6ZM2231 225.2H2237.9V1694.9H2231ZM2235.5 175.5H2242.4V1687.5H2235.5ZM2239.9 255.4H2246.8V1675.5H2239.9ZM2244.4 178H2251.3V1684.5H2244.4ZM2248.8 176.9H2255.7V1689.5H2248.8ZM2253.3 285.7H2260.2V1694.9H2253.3ZM2257.7 251.3H2264.6V1694.9H2257.7ZM2262.2 175.5H2269.1V1694.9H2262.2ZM2266.6 175.5H2273.5V1694.9H2266.6ZM2271.1 200.3H2278V1693.9H2271.1ZM2275.5 175.5H2282.4V1694.9H2275.5ZM2280 176.9H2286.9V1694.9H2280ZM2284.4 174.5H2291.3V1694.9H2284.4ZM2288.9 176.9H2295.8V1694.9H2288.9ZM2293.3 176.9H2300.2V1694.9H2293.3ZM2297.7 175.5H2304.6V1694.9H2297.7ZM2302.2 234.1H2309.1V1693.9H2302.2ZM2306.6 174.5H2313.5V1695.9H2306.6ZM2311.1 264.2H2318V1693.9H2311.1ZM2315.5 281.7H2322.4V1694.9H2315.5ZM2320 264.2H2326.9V1592.5H2320ZM2324.4 199.7H2331.3V1694.9H2324.4ZM2328.9 195.9H2335.8V1693.9H2328.9ZM2333.3 257.9H2340.2V1693.9H2333.3ZM2337.8 247.1H2344.7V1693.9H2337.8ZM2342.2 176.9H2349.1V1694.9H2342.2ZM2346.7 178.1H2353.6V1694.9H2346.7ZM2351.1 183.2H2358V1694.9H2351.1ZM2355.6 271.8H2362.5V1694.9H2355.6ZM2360 273.1H2366.9V1694.9H2360ZM2364.5 278.1H2371.4V1556H2364.5ZM2368.9 252.2H2375.8V1694.9H2368.9ZM2373.4 286.4H2380.3V1693.9H2373.4ZM2377.8 280.7H2384.7V1694.9H2377.8ZM2382.3 178.1H2389.2V1693.9H2382.3ZM2386.7 279.5H2393.6V1694.9H2386.7ZM2391.2 282.5H2398.1V1694.9H2391.2ZM2395.6 284.5H2402.5V1694.9H2395.6ZM2400.1 281.9H2407V1694.9H2400.1Z" fill="#0000ff" shape-rendering="crispEdges"/>
<path d="M454.7 178.6h29M468.5 164.1v29M458.6 168l21.2 21.2M458.6 189.2l21.2 -21.2M459.1 178.6h29M472.9 164.1v29M463 168l21.2 21.2M463 189.2l21.2 -21.2M463.6 203.7h29M477.4 189.2v29M467.5 193.1l21.2 21.2M467.5 214.3l21.2 -21.2M468 358h29M481.8 343.5v29M471.9 347.4l21.2 21.2M471.9 368.6l21.2 -21.2M472.5 178.6h29M486.3 164.1v29M476.4 168l21.2 21.2M476.4 189.2l21.2 -21.2M476.9 178.6h29M490.7 164.1v29M480.8 168l21.2 21.2M480.8 189.2l21.2 -21.2M481.4 180h29M495.2 165.5v29M485.3 169.4l21.2 21.2M485.3 190.6l21.2 -21.2M485.8 232.6h29M499.6 218.1v29M489.7 222l21.2 21.2M489.7 243.2l21.2 -21.2M490.3 178.6h29M504.1 164.1v29M494.2 168l21.2 21.2M494.2 189.2l21.2 -21.2M494.7 181.1h29M508.5 166.6v29M498.6 170.5l21.2 21.2M498.6 191.7l21.2 -21.2M499.2 261.9h29M513 247.4v29M503.1 251.3l21.2 21.2M503.1 272.5l21.2 -21.2M503.6 180h29M517.4 165.5v29M507.5 169.4l21.2 21.2M507.5 190.6l21.2 -21.2M508.1 178.6h29M521.9 164.1v29M512 168l21.2 21.2M512 189.2l21.2 -21.2M512.5 281h29M526.3 266.5v29M516.4 270.4l21.2 21.2M516.4 291.6l21.2 -21.2M517 281h29M530.8 266.5v29M520.9 270.4l21.2 21.2M520.9 291.6l21.2 -21.2M521.4 283h29M535.2 268.5v29M525.3 272.4l21.2 21.2M525.3 293.6l21.2 -21.2M525.9 286h29M539.7 271.5v29M529.8 275.4l21.2 21.2M529.8 296.6l21.2 -21.2M530.3 288.5h29M544.1 274v29M534.2 277.9l21.2 21.2M534.2 299.1l21.2 -21.2M534.8 283h29M548.6 268.5v29M538.7 272.4l21.2 21.2M538.7 293.6l21.2 -21.2M539.2 273h29M553 258.5v29M543.1 262.4l21.2 21.2M543.1 283.6l21.2 -21.2M543.7 267h29M557.5 252.5v29M547.6 256.4l21.2 21.2M547.6 277.6l21.2 -21.2M548.1 263h29M561.9 248.5v29M552 252.4l21.2 21.2M552 273.6l21.2 -21.2M552.6 178.6h29M566.4 164.1v29M556.5 168l21.2 21.2M556.5 189.2l21.2 -21.2M557 181.1h29M570.8 166.6v29M560.9 170.5l21.2 21.2M560.9 191.7l21.2 -21.2M561.5 225h29M575.3 210.5v29M565.4 214.4l21.2 21.2M565.4 235.6l21.2 -21.2M565.9 178.6h29M579.7 164.1v29M569.8 168l21.2 21.2M569.8 189.2l21.2 -21.2M570.4 182.2h29M584.2 167.7v29M574.3 171.6l21.2 21.2M574.3 192.8l21.2 -21.2M574.8 268.8h29M588.6 254.2v29M578.7 258.1l21.2 21.2M578.7 279.4l21.2 -21.2M579.3 217h29M593.1 202.5v29M583.2 206.4l21.2 21.2M583.2 227.6l21.2 -21.2M583.7 178.6h29M597.5 164.1v29M587.6 168l21.2 21.2M587.6 189.2l21.2 -21.2M588.1 181.1h29M601.9 166.6v29M592 170.5l21.2 21.2M592 191.7l21.2 -21.2M592.6 256h29M606.4 241.5v29M596.5 245.4l21.2 21.2M596.5 266.6l21.2 -21.2M597 180h29M610.8 165.5v29M600.9 169.4l21.2 21.2M600.9 190.6l21.2 -21.2M601.5 254h29M615.3 239.5v29M605.4 243.4l21.2 21.2M605.4 264.6l21.2 -21.2M605.9 250h29M619.7 235.5v29M609.8 239.4l21.2 21.2M609.8 260.6l21.2 -21.2M610.4 178.6h29M624.2 164.1v29M614.3 168l21.2 21.2M614.3 189.2l21.2 -21.2M614.8 180h29M628.6 165.5v29M618.7 169.4l21.2 21.2M618.7 190.6l21.2 -21.2M619.3 178.6h29M633.1 164.1v29M623.2 168l21.2 21.2M623.2 189.2l21.2 -21.2M623.7 178.6h29M637.5 164.1v29M627.6 168l21.2 21.2M627.6 189.2l21.2 -21.2M628.2 180h29M642 165.5v29M632.1 169.4l21.2 21.2M632.1 190.6l21.2 -21.2M632.6 178.6h29M646.4 164.1v29M636.5 168l21.2 21.2M636.5 189.2l21.2 -21.2M637.1 180h29M650.9 165.5v29M641 169.4l21.2 21.2M641 190.6l21.2 -21.2M641.5 178.6h29M655.3 164.1v29M645.4 168l21.2 21.2M645.4 189.2l21.2 -21.2M646 181.1h29M659.8 166.6v29M649.9 170.5l21.2 21.2M649.9 191.7l21.2 -21.2M650.4 178.6h29M664.2 164.1v29M654.3 168l21.2 21.2M654.3 189.2l21.2 -21.2M654.9 180h29M668.7 165.5v29M658.8 169.4l21.2 21.2M658.8 190.6l21.2 -21.2M659.3 182.2h29M673.1 167.7v29M663.2 171.6l21.2 21.2M663.2 192.8l21.2 -21.2M663.8 178.6h29M677.6 164.1v29M667.7 168l21.2 21.2M667.7 189.2l21.2 -21.2M668.2 178.6h29M682 164.1v29M672.1 168l21.2 21.2M672.1 189.2l21.2 -21.2M672.7 181.1h29M686.5 166.6v29M676.6 170.5l21.2 21.2M676.6 191.7l21.2 -21.2M677.1 181.1h29M690.9 166.6v29M681 170.5l21.2 21.2M681 191.7l21.2 -21.2M681.6 182.2h29M695.4 167.7v29M685.5 171.6l21.2 21.2M685.5 192.8l21.2 -21.2M686 178.6h29M699.8 164.1v29M689.9 168l21.2 21.2M689.9 189.2l21.2 -21.2M690.5 178.6h29M704.3 164.1v29M694.4 168l21.2 21.2M694.4 189.2l21.2 -21.2M694.9 178.6h29M708.7 164.1v29M698.8 168l21.2 21.2M698.8 189.2l21.2 -21.2M699.4 180h29M713.2 165.5v29M703.3 169.4l21.2 21.2M703.3 190.6l21.2 -21.2M703.8 177.6h29M717.6 163.1v29M707.7 167l21.2 21.2M707.7 188.2l21.2 -21.2M708.3 178.6h29M722.1 164.1v29M712.2 168l21.2 21.2M712.2 189.2l21.2 -21.2M712.7 181.1h29M726.5 166.6v29M716.6 170.5l21.2 21.2M716.6 191.7l21.2 -21.2M717.1 178.6h29M730.9 164.1v29M721 168l21.2 21.2M721 189.2l21.2 -21.2M721.6 181.1h29M735.4 166.6v29M725.5 170.5l21.2 21.2M725.5 191.7l21.2 -21.2M726 178.6h29M739.8 164.1v29M729.9 168l21.2 21.2M729.9 189.2l21.2 -21.2M730.5 229h29M744.3 214.5v29M734.4 218.4l21.2 21.2M734.4 239.6l21.2 -21.2M734.9 182.2h29M748.7 167.7v29M738.8 171.6l21.2 21.2M738.8 192.8l21.2 -21.2M739.4 180h29M753.2 165.5v29M743.3 169.4l21.2 21.2M743.3 190.6l21.2 -21.2M743.8 180h29M757.6 165.5v29M747.7 169.4l21.2 21.2M747.7 190.6l21.2 -21.2M748.3 178.6h29M762.1 164.1v29M752.2 168l21.2 21.2M752.2 189.2l21.2 -21.2M752.7 180h29M766.5 165.5v29M756.6 169.4l21.2 21.2M756.6 190.6l21.2 -21.2M757.2 181.1h29M771 166.6v29M761.1 170.5l21.2 21.2M761.1 191.7l21.2 -21.2M761.6 180h29M775.4 165.5v29M765.5 169.4l21.2 21.2M765.5 190.6l21.2 -21.2M766.1 258h29M779.9 243.5v29M770 247.4l21.2 21.2M770 268.6l21.2 -21.2M770.5 195h29M784.3 180.5v29M774.4 184.4l21.2 21.2M774.4 205.6l21.2 -21.2M775 259h29M788.8 244.5v29M778.9 248.4l21.2 21.2M778.9 269.6l21.2 -21.2M779.4 178.6h29M793.2 164.1v29M783.3 168l21.2 21.2M783.3 189.2l21.2 -21.2M783.9 177.6h29M797.7 163.1v29M787.8 167l21.2 21.2M787.8 188.2l21.2 -21.2M788.3 178.6h29M802.1 164.1v29M792.2 168l21.2 21.2M792.2 189.2l21.2 -21.2M792.8 178.6h29M806.6 164.1v29M796.7 168l21.2 21.2M796.7 189.2l21.2 -21.2M797.2 181.1h29M811 166.6v29M801.1 170.5l21.2 21.2M801.1 191.7l21.2 -21.2M801.7 178.6h29M815.5 164.1v29M805.6 168l21.2 21.2M805.6 189.2l21.2 -21.2M806.1 180h29M819.9 165.5v29M810 169.4l21.2 21.2M810 190.6l21.2 -21.2M810.6 180h29M824.4 165.5v29M814.5 169.4l21.2 21.2M814.5 190.6l21.2 -21.2M815 178.6h29M828.8 164.1v29M818.9 168l21.2 21.2M818.9 189.2l21.2 -21.2M819.5 177.6h29M833.3 163.1v29M823.4 167l21.2 21.2M823.4 188.2l21.2 -21.2M823.9 180h29M837.7 165.5v29M827.8 169.4l21.2 21.2M827.8 190.6l21.2 -21.2M828.4 208h29M842.2 193.5v29M832.3 197.4l21.2 21.2M832.3 218.6l21.2 -21.2M832.8 234.5h29M846.6 220v29M836.7 223.9l21.2 21.2M836.7 245.1l21.2 -21.2M837.3 178.6h29M851.1 164.1v29M841.2 168l21.2 21.2M841.2 189.2l21.2 -21.2M841.7 262.5h29M855.5 248v29M845.6 251.9l21.2 21.2M845.6 273.1l21.2 -21.2M846.2 180h29M860 165.5v29M850.1 169.4l21.2 21.2M850.1 190.6l21.2 -21.2M850.6 238h29M864.4 223.5v29M854.5 227.4l21.2 21.2M854.5 248.6l21.2 -21.2M855 178.6h29M868.8 164.1v29M858.9 168l21.2 21.2M858.9 189.2l21.2 -21.2M859.5 178.6h29M873.3 164.1v29M863.4 168l21.2 21.2M863.4 189.2l21.2 -21.2M863.9 178.6h29M877.7 164.1v29M867.8 168l21.2 21.2M867.8 189.2l21.2 -21.2M868.4 180h29M882.2 165.5v29M872.3 169.4l21.2 21.2M872.3 190.6l21.2 -21.2M872.8 180h29M886.6 165.5v29M876.7 169.4l21.2 21.2M876.7 190.6l21.2 -21.2M877.3 176.1h29M891.1 161.6v29M881.2 165.5l21.2 21.2M881.2 186.7l21.2 -21.2M881.7 179.7h29M895.5 165.2v29M885.6 169.1l21.2 21.2M885.6 190.3l21.2 -21.2M886.2 276h29M900 261.5v29M890.1 265.4l21.2 21.2M890.1 286.6l21.2 -21.2M890.6 177.5h29M904.4 163v29M894.5 166.9l21.2 21.2M894.5 188.1l21.2 -21.2M895.1 178.6h29M908.9 164.1v29M899 168l21.2 21.2M899 189.2l21.2 -21.2M899.5 178.6h29M913.3 164.1v29M903.4 168l21.2 21.2M903.4 189.2l21.2 -21.2M904 178.6h29M917.8 164.1v29M907.9 168l21.2 21.2M907.9 189.2l21.2 -21.2M908.4 200h29M922.2 185.5v29M912.3 189.4l21.2 21.2M912.3 210.6l21.2 -21.2M912.9 255h29M926.7 240.5v29M916.8 244.4l21.2 21.2M916.8 265.6l21.2 -21.2M917.3 181.1h29M931.1 166.6v29M921.2 170.5l21.2 21.2M921.2 191.7l21.2 -21.2M921.8 180h29M935.6 165.5v29M925.7 169.4l21.2 21.2M925.7 190.6l21.2 -21.2M926.2 181.1h29M940 166.6v29M930.1 170.5l21.2 21.2M930.1 191.7l21.2 -21.2M930.7 180h29M944.5 165.5v29M934.6 169.4l21.2 21.2M934.6 190.6l21.2 -21.2M935.1 178.6h29M948.9 164.1v29M939 168l21.2 21.2M939 189.2l21.2 -21.2M939.6 178.6h29M953.4 164.1v29M943.5 168l21.2 21.2M943.5 189.2l21.2 -21.2M944 178.6h29M957.8 164.1v29M947.9 168l21.2 21.2M947.9 189.2l21.2 -21.2M948.5 191h29M962.3 176.5v29M952.4 180.4l21.2 21.2M952.4 201.6l21.2 -21.2M952.9 177.6h29M966.7 163.1v29M956.8 167l21.2 21.2M956.8 188.2l21.2 -21.2M957.4 182.2h29M971.2 167.7v29M961.3 171.6l21.2 21.2M961.3 192.8l21.2 -21.2M961.8 178.6h29M975.6 164.1v29M965.7 168l21.2 21.2M965.7 189.2l21.2 -21.2M966.3 178.6h29M980.1 164.1v29M970.2 168l21.2 21.2M970.2 189.2l21.2 -21.2M970.7 177.6h29M984.5 163.1v29M974.6 167l21.2 21.2M974.6 188.2l21.2 -21.2M975.2 204h29M989 189.5v29M979.1 193.4l21.2 21.2M979.1 214.6l21.2 -21.2M979.6 178.6h29M993.4 164.1v29M983.5 168l21.2 21.2M983.5 189.2l21.2 -21.2M984 182.2h29M997.8 167.7v29M987.9 171.6l21.2 21.2M987.9 192.8l21.2 -21.2M988.5 181.1h29M1002.3 166.6v29M992.4 170.5l21.2 21.2M992.4 191.7l21.2 -21.2M992.9 182.2h29M1006.7 167.7v29M996.8 171.6l21.2 21.2M996.8 192.8l21.2 -21.2M997.4 212.5h29M1011.2 198v29M1001.3 201.9l21.2 21.2M1001.3 223.1l21.2 -21.2M1001.8 284h29M1015.6 269.5v29M1005.7 273.4l21.2 21.2M1005.7 294.6l21.2 -21.2M1006.3 177.6h29M1020.1 163.1v29M1010.2 167l21.2 21.2M1010.2 188.2l21.2 -21.2M1010.7 217.5h29M1024.5 203v29M1014.6 206.9l21.2 21.2M1014.6 228.1l21.2 -21.2M1015.2 182.2h29M1029 167.7v29M1019.1 171.6l21.2 21.2M1019.1 192.8l21.2 -21.2M1019.6 195h29M1033.4 180.5v29M1023.5 184.4l21.2 21.2M1023.5 205.6l21.2 -21.2M1024.1 178.6h29M1037.9 164.1v29M1028 168l21.2 21.2M1028 189.2l21.2 -21.2M1028.5 180h29M1042.3 165.5v29M1032.4 169.4l21.2 21.2M1032.4 190.6l21.2 -21.2M1033 178.6h29M1046.8 164.1v29M1036.9 168l21.2 21.2M1036.9 189.2l21.2 -21.2M1037.4 178.6h29M1051.2 164.1v29M1041.3 168l21.2 21.2M1041.3 189.2l21.2 -21.2M1041.9 181.1h29M1055.7 166.6v29M1045.8 170.5l21.2 21.2M1045.8 191.7l21.2 -21.2M1046.3 178.6h29M1060.1 164.1v29M1050.2 168l21.2 21.2M1050.2 189.2l21.2 -21.2M1050.8 273.8h29M1064.6 259.2v29M1054.7 263.1l21.2 21.2M1054.7 284.4l21.2 -21.2M1055.2 178.6h29M1069 164.1v29M1059.1 168l21.2 21.2M1059.1 189.2l21.2 -21.2M1059.7 225.8h29M1073.5 211.2v29M1063.6 215.2l21.2 21.2M1063.6 236.3l21.2 -21.2M1064.1 281h29M1077.9 266.5v29M1068 270.4l21.2 21.2M1068 291.6l21.2 -21.2M1068.6 178.6h29M1082.4 164.1v29M1072.5 168l21.2 21.2M1072.5 189.2l21.2 -21.2M1073 177.6h29M1086.8 163.1v29M1076.9 167l21.2 21.2M1076.9 188.2l21.2 -21.2M1077.5 272.5h29M1091.3 258v29M1081.4 261.9l21.2 21.2M1081.4 283.1l21.2 -21.2M1081.9 180h29M1095.7 165.5v29M1085.8 169.4l21.2 21.2M1085.8 190.6l21.2 -21.2M1086.4 252h29M1100.2 237.5v29M1090.3 241.4l21.2 21.2M1090.3 262.6l21.2 -21.2M1090.8 255h29M1104.6 240.5v29M1094.7 244.4l21.2 21.2M1094.7 265.6l21.2 -21.2M1095.3 254h29M1109.1 239.5v29M1099.2 243.4l21.2 21.2M1099.2 264.6l21.2 -21.2M1099.7 178.6h29M1113.5 164.1v29M1103.6 168l21.2 21.2M1103.6 189.2l21.2 -21.2M1104.2 180h29M1118 165.5v29M1108.1 169.4l21.2 21.2M1108.1 190.6l21.2 -21.2M1108.6 180h29M1122.4 165.5v29M1112.5 169.4l21.2 21.2M1112.5 190.6l21.2 -21.2M1113 180h29M1126.8 165.5v29M1116.9 169.4l21.2 21.2M1116.9 190.6l21.2 -21.2M1117.5 178.6h29M1131.3 164.1v29M1121.4 168l21.2 21.2M1121.4 189.2l21.2 -21.2M1121.9 278h29M1135.7 263.5v29M1125.8 267.4l21.2 21.2M1125.8 288.6l21.2 -21.2M1126.4 180h29M1140.2 165.5v29M1130.3 169.4l21.2 21.2M1130.3 190.6l21.2 -21.2M1130.8 204.5h29M1144.6 190v29M1134.7 193.9l21.2 21.2M1134.7 215.1l21.2 -21.2M1135.3 277.5h29M1149.1 263v29M1139.2 266.9l21.2 21.2M1139.2 288.1l21.2 -21.2M1139.7 177.6h29M1153.5 163.1v29M1143.6 167l21.2 21.2M1143.6 188.2l21.2 -21.2M1144.2 286h29M1158 271.5v29M1148.1 275.4l21.2 21.2M1148.1 296.6l21.2 -21.2M1148.6 287.5h29M1162.4 273v29M1152.5 276.9l21.2 21.2M1152.5 298.1l21.2 -21.2M1153.1 182.2h29M1166.9 167.7v29M1157 171.6l21.2 21.2M1157 192.8l21.2 -21.2M1157.5 217.5h29M1171.3 203v29M1161.4 206.9l21.2 21.2M1161.4 228.1l21.2 -21.2M1162 238.8h29M1175.8 224.2v29M1165.9 228.2l21.2 21.2M1165.9 249.3l21.2 -21.2M1166.4 178.6h29M1180.2 164.1v29M1170.3 168l21.2 21.2M1170.3 189.2l21.2 -21.2M1170.9 178.6h29M1184.7 164.1v29M1174.8 168l21.2 21.2M1174.8 189.2l21.2 -21.2M1175.3 201h29M1189.1 186.5v29M1179.2 190.4l21.2 21.2M1179.2 211.6l21.2 -21.2M1179.8 201h29M1193.6 186.5v29M1183.7 190.4l21.2 21.2M1183.7 211.6l21.2 -21.2M1184.2 205h29M1198 190.5v29M1188.1 194.4l21.2 21.2M1188.1 215.6l21.2 -21.2M1188.7 260h29M1202.5 245.5v29M1192.6 249.4l21.2 21.2M1192.6 270.6l21.2 -21.2M1193.1 234h29M1206.9 219.5v29M1197 223.4l21.2 21.2M1197 244.6l21.2 -21.2M1197.6 206.4h29M1211.4 191.9v29M1201.5 195.8l21.2 21.2M1201.5 217l21.2 -21.2M1202 202.5h29M1215.8 188v29M1205.9 191.9l21.2 21.2M1205.9 213.1l21.2 -21.2M1206.5 205h29M1220.3 190.5v29M1210.4 194.4l21.2 21.2M1210.4 215.6l21.2 -21.2M1210.9 277.8h29M1224.7 263.3v29M1214.8 267.2l21.2 21.2M1214.8 288.4l21.2 -21.2M1215.4 212.1h29M1229.2 197.6v29M1219.3 201.5l21.2 21.2M1219.3 222.7l21.2 -21.2M1219.8 243.7h29M1233.6 229.2v29M1223.7 233.1l21.2 21.2M1223.7 254.3l21.2 -21.2M1224.3 221h29M1238.1 206.5v29M1228.2 210.4l21.2 21.2M1228.2 231.6l21.2 -21.2M1228.7 221.1h29M1242.5 206.6v29M1232.6 210.5l21.2 21.2M1232.6 231.7l21.2 -21.2M1233.2 219.9h29M1247 205.4v29M1237.1 209.3l21.2 21.2M1237.1 230.5l21.2 -21.2M1237.6 215.1h29M1251.4 200.6v29M1241.5 204.5l21.2 21.2M1241.5 225.7l21.2 -21.2M1242 210.3h29M1255.8 195.8v29M1245.9 199.7l21.2 21.2M1245.9 220.9l21.2 -21.2M1246.5 208h29M1260.3 193.5v29M1250.4 197.4l21.2 21.2M1250.4 218.6l21.2 -21.2M1250.9 208.2h29M1264.7 193.7v29M1254.8 197.6l21.2 21.2M1254.8 218.8l21.2 -21.2M1255.4 205.9h29M1269.2 191.4v29M1259.3 195.3l21.2 21.2M1259.3 216.5l21.2 -21.2M1259.8 264h29M1273.6 249.5v29M1263.7 253.4l21.2 21.2M1263.7 274.6l21.2 -21.2M1264.3 200.5h29M1278.1 186v29M1268.2 189.9l21.2 21.2M1268.2 211.1l21.2 -21.2M1268.7 268.4h29M1282.5 253.9v29M1272.6 257.8l21.2 21.2M1272.6 279l21.2 -21.2M1273.2 255.7h29M1287 241.2v29M1277.1 245.1l21.2 21.2M1277.1 266.3l21.2 -21.2M1277.6 269.6h29M1291.4 255.1v29M1281.5 259l21.2 21.2M1281.5 280.2l21.2 -21.2M1282.1 204.4h29M1295.9 189.9v29M1286 193.8l21.2 21.2M1286 215l21.2 -21.2M1286.5 202h29M1300.3 187.5v29M1290.4 191.4l21.2 21.2M1290.4 212.6l21.2 -21.2M1291 229.7h29M1304.8 215.2v29M1294.9 219.1l21.2 21.2M1294.9 240.3l21.2 -21.2M1295.4 202h29M1309.2 187.5v29M1299.3 191.4l21.2 21.2M1299.3 212.6l21.2 -21.2M1299.9 233.5h29M1313.7 219v29M1303.8 222.9l21.2 21.2M1303.8 244.1l21.2 -21.2M1304.3 202h29M1318.1 187.5v29M1308.2 191.4l21.2 21.2M1308.2 212.6l21.2 -21.2M1308.8 202h29M1322.6 187.5v29M1312.7 191.4l21.2 21.2M1312.7 212.6l21.2 -21.2M1313.2 237.3h29M1327 222.8v29M1317.1 226.7l21.2 21.2M1317.1 247.9l21.2 -21.2M1317.7 200.6h29M1331.5 186.1v29M1321.6 190l21.2 21.2M1321.6 211.2l21.2 -21.2M1322.1 246.2h29M1335.9 231.7v29M1326 235.6l21.2 21.2M1326 256.8l21.2 -21.2M1326.6 209h29M1340.4 194.5v29M1330.5 198.4l21.2 21.2M1330.5 219.6l21.2 -21.2M1331 233.5h29M1344.8 219v29M1334.9 222.9l21.2 21.2M1334.9 244.1l21.2 -21.2M1335.5 258.2h29M1349.3 243.7v29M1339.4 247.6l21.2 21.2M1339.4 268.8l21.2 -21.2M1339.9 198.6h29M1353.7 184.1v29M1343.8 188l21.2 21.2M1343.8 209.2l21.2 -21.2M1344.4 200h29M1358.2 185.5v29M1348.3 189.4l21.2 21.2M1348.3 210.6l21.2 -21.2M1348.8 276h29M1362.6 261.5v29M1352.7 265.4l21.2 21.2M1352.7 286.6l21.2 -21.2M1353.3 197.3h29M1367.1 182.8v29M1357.2 186.7l21.2 21.2M1357.2 207.9l21.2 -21.2M1357.7 195.9h29M1371.5 181.4v29M1361.6 185.3l21.2 21.2M1361.6 206.5l21.2 -21.2M1362.2 194.6h29M1376 180.1v29M1366.1 184l21.2 21.2M1366.1 205.2l21.2 -21.2M1366.6 192.1h29M1380.4 177.6v29M1370.5 181.5l21.2 21.2M1370.5 202.7l21.2 -21.2M1371 193.2h29M1384.8 178.7v29M1374.9 182.6l21.2 21.2M1374.9 203.8l21.2 -21.2M1375.5 194.4h29M1389.3 179.9v29M1379.4 183.8l21.2 21.2M1379.4 205l21.2 -21.2M1379.9 189.1h29M1393.7 174.6v29M1383.8 178.5l21.2 21.2M1383.8 199.7l21.2 -21.2M1384.4 189.2h29M1398.2 174.7v29M1388.3 178.6l21.2 21.2M1388.3 199.8l21.2 -21.2M1397.7 178h29M1411.5 163.5v29M1401.6 167.4l21.2 21.2M1401.6 188.6l21.2 -21.2M1402.2 178h29M1416 163.5v29M1406.1 167.4l21.2 21.2M1406.1 188.6l21.2 -21.2M1406.6 180.5h29M1420.4 166v29M1410.5 169.9l21.2 21.2M1410.5 191.1l21.2 -21.2M1411.1 179.4h29M1424.9 164.9v29M1415 168.8l21.2 21.2M1415 190l21.2 -21.2M1415.5 178h29M1429.3 163.5v29M1419.4 167.4l21.2 21.2M1419.4 188.6l21.2 -21.2M1420 217h29M1433.8 202.5v29M1423.9 206.4l21.2 21.2M1423.9 227.6l21.2 -21.2M1424.4 287.5h29M1438.2 273v29M1428.3 276.9l21.2 21.2M1428.3 298.1l21.2 -21.2M1428.9 280h29M1442.7 265.5v29M1432.8 269.4l21.2 21.2M1432.8 290.6l21.2 -21.2M1433.3 293.8h29M1447.1 279.2v29M1437.2 283.1l21.2 21.2M1437.2 304.4l21.2 -21.2M1437.8 179h29M1451.6 164.5v29M1441.7 168.4l21.2 21.2M1441.7 189.6l21.2 -21.2M1442.2 180.4h29M1456 165.9v29M1446.1 169.8l21.2 21.2M1446.1 191l21.2 -21.2M1446.7 179h29M1460.5 164.5v29M1450.6 168.4l21.2 21.2M1450.6 189.6l21.2 -21.2M1451.1 179h29M1464.9 164.5v29M1455 168.4l21.2 21.2M1455 189.6l21.2 -21.2M1455.6 180.4h29M1469.4 165.9v29M1459.5 169.8l21.2 21.2M1459.5 191l21.2 -21.2M1460 211h29M1473.8 196.5v29M1463.9 200.4l21.2 21.2M1463.9 221.6l21.2 -21.2M1464.5 207h29M1478.3 192.5v29M1468.4 196.4l21.2 21.2M1468.4 217.6l21.2 -21.2M1468.9 269h29M1482.7 254.5v29M1472.8 258.4l21.2 21.2M1472.8 279.6l21.2 -21.2M1473.4 209h29M1487.2 194.5v29M1477.3 198.4l21.2 21.2M1477.3 219.6l21.2 -21.2M1477.8 202.5h29M1491.6 188v29M1481.7 191.9l21.2 21.2M1481.7 213.1l21.2 -21.2M1486.7 232h29M1500.5 217.5v29M1490.6 221.4l21.2 21.2M1490.6 242.6l21.2 -21.2M1491.2 220.6h29M1505 206.1v29M1495.1 210l21.2 21.2M1495.1 231.2l21.2 -21.2M1495.6 222.6h29M1509.4 208.1v29M1499.5 212l21.2 21.2M1499.5 233.2l21.2 -21.2M1500.1 223.4h29M1513.9 208.9v29M1504 212.8l21.2 21.2M1504 234l21.2 -21.2M1504.5 222.4h29M1518.3 207.9v29M1508.4 211.8l21.2 21.2M1508.4 233l21.2 -21.2M1508.9 222.1h29M1522.7 207.6v29M1512.8 211.5l21.2 21.2M1512.8 232.7l21.2 -21.2M1513.4 221.8h29M1527.2 207.3v29M1517.3 211.2l21.2 21.2M1517.3 232.4l21.2 -21.2M1517.8 222.8h29M1531.6 208.3v29M1521.7 212.2l21.2 21.2M1521.7 233.4l21.2 -21.2M1522.3 220.8h29M1536.1 206.3v29M1526.2 210.2l21.2 21.2M1526.2 231.4l21.2 -21.2M1526.7 221.4h29M1540.5 206.9v29M1530.6 210.8l21.2 21.2M1530.6 232l21.2 -21.2M1531.2 212h29M1545 197.5v29M1535.1 201.4l21.2 21.2M1535.1 222.6l21.2 -21.2M1535.6 225.5h29M1549.4 211v29M1539.5 214.9l21.2 21.2M1539.5 236.1l21.2 -21.2M1540.1 240h29M1553.9 225.5v29M1544 229.4l21.2 21.2M1544 250.6l21.2 -21.2M1544.5 246h29M1558.3 231.5v29M1548.4 235.4l21.2 21.2M1548.4 256.6l21.2 -21.2M1549 241h29M1562.8 226.5v29M1552.9 230.4l21.2 21.2M1552.9 251.6l21.2 -21.2M1553.4 238h29M1567.2 223.5v29M1557.3 227.4l21.2 21.2M1557.3 248.6l21.2 -21.2M1557.9 221h29M1571.7 206.5v29M1561.8 210.4l21.2 21.2M1561.8 231.6l21.2 -21.2M1562.3 649h29M1576.1 634.5v29M1566.2 638.4l21.2 21.2M1566.2 659.6l21.2 -21.2M1566.8 1009h29M1580.6 994.5v29M1570.7 998.4l21.2 21.2M1570.7 1019.6l21.2 -21.2M1571.2 231h29M1585 216.5v29M1575.1 220.4l21.2 21.2M1575.1 241.6l21.2 -21.2M1575.7 220h29M1589.5 205.5v29M1579.6 209.4l21.2 21.2M1579.6 230.6l21.2 -21.2M1580.1 332h29M1593.9 317.5v29M1584 321.4l21.2 21.2M1584 342.6l21.2 -21.2M1589 205h29M1602.8 190.5v29M1592.9 194.4l21.2 21.2M1592.9 215.6l21.2 -21.2M1593.5 202h29M1607.3 187.5v29M1597.4 191.4l21.2 21.2M1597.4 212.6l21.2 -21.2M1597.9 203h29M1611.7 188.5v29M1601.8 192.4l21.2 21.2M1601.8 213.6l21.2 -21.2M1602.4 208h29M1616.2 193.5v29M1606.3 197.4l21.2 21.2M1606.3 218.6l21.2 -21.2M1606.8 266.5h29M1620.6 252v29M1610.7 255.9l21.2 21.2M1610.7 277.1l21.2 -21.2M1611.3 281.6h29M1625.1 267.1v29M1615.2 271l21.2 21.2M1615.2 292.2l21.2 -21.2M1615.7 264h29M1629.5 249.5v29M1619.6 253.4l21.2 21.2M1619.6 274.6l21.2 -21.2M1686.9 282h29M1700.7 267.5v29M1690.8 271.4l21.2 21.2M1690.8 292.6l21.2 -21.2M1695.8 277.5h29M1709.6 263v29M1699.7 266.9l21.2 21.2M1699.7 288.1l21.2 -21.2M1704.7 270h29M1718.5 255.5v29M1708.6 259.4l21.2 21.2M1708.6 280.6l21.2 -21.2M1713.6 267.5h29M1727.4 253v29M1717.5 256.9l21.2 21.2M1717.5 278.1l21.2 -21.2M1722.5 266h29M1736.3 251.5v29M1726.4 255.4l21.2 21.2M1726.4 276.6l21.2 -21.2M1731.4 266h29M1745.2 251.5v29M1735.3 255.4l21.2 21.2M1735.3 276.6l21.2 -21.2M1740.3 266h29M1754.1 251.5v29M1744.2 255.4l21.2 21.2M1744.2 276.6l21.2 -21.2M1758.1 262.5h29M1771.9 248v29M1762 251.9l21.2 21.2M1762 273.1l21.2 -21.2M1829.2 268h29M1843 253.5v29M1833.1 257.4l21.2 21.2M1833.1 278.6l21.2 -21.2M1838.1 267.5h29M1851.9 253v29M1842 256.9l21.2 21.2M1842 278.1l21.2 -21.2M1847 266h29M1860.8 251.5v29M1850.9 255.4l21.2 21.2M1850.9 276.6l21.2 -21.2M1873.7 1120h29M1887.5 1105.5v29M1877.6 1109.4l21.2 21.2M1877.6 1130.6l21.2 -21.2M1882.6 263h29M1896.4 248.5v29M1886.5 252.4l21.2 21.2M1886.5 273.6l21.2 -21.2M1891.5 261h29M1905.3 246.5v29M1895.4 250.4l21.2 21.2M1895.4 271.6l21.2 -21.2M1900.4 284h29M1914.2 269.5v29M1904.3 273.4l21.2 21.2M1904.3 294.6l21.2 -21.2M1904.8 261.4h29M1918.6 246.9v29M1908.7 250.8l21.2 21.2M1908.7 272l21.2 -21.2M1909.3 286h29M1923.1 271.5v29M1913.2 275.4l21.2 21.2M1913.2 296.6l21.2 -21.2M1913.7 287h29M1927.5 272.5v29M1917.6 276.4l21.2 21.2M1917.6 297.6l21.2 -21.2M1918.2 288h29M1932 273.5v29M1922.1 277.4l21.2 21.2M1922.1 298.6l21.2 -21.2M1922.6 276h29M1936.4 261.5v29M1926.5 265.4l21.2 21.2M1926.5 286.6l21.2 -21.2M1927.1 264h29M1940.9 249.5v29M1931 253.4l21.2 21.2M1931 274.6l21.2 -21.2M1931.5 204h29M1945.3 189.5v29M1935.4 193.4l21.2 21.2M1935.4 214.6l21.2 -21.2M1936 284h29M1949.8 269.5v29M1939.9 273.4l21.2 21.2M1939.9 294.6l21.2 -21.2M1940.4 204h29M1954.2 189.5v29M1944.3 193.4l21.2 21.2M1944.3 214.6l21.2 -21.2M1949.3 260h29M1963.1 245.5v29M1953.2 249.4l21.2 21.2M1953.2 270.6l21.2 -21.2M1953.8 204h29M1967.6 189.5v29M1957.7 193.4l21.2 21.2M1957.7 214.6l21.2 -21.2M1958.2 283.5h29M1972 269v29M1962.1 272.9l21.2 21.2M1962.1 294.1l21.2 -21.2M1962.7 203h29M1976.5 188.5v29M1966.6 192.4l21.2 21.2M1966.6 213.6l21.2 -21.2M1976 261.4h29M1989.8 246.9v29M1979.9 250.8l21.2 21.2M1979.9 272l21.2 -21.2M1980.5 259h29M1994.3 244.5v29M1984.4 248.4l21.2 21.2M1984.4 269.6l21.2 -21.2M1984.9 274h29M1998.7 259.5v29M1988.8 263.4l21.2 21.2M1988.8 284.6l21.2 -21.2M1989.4 287h29M2003.2 272.5v29M1993.3 276.4l21.2 21.2M1993.3 297.6l21.2 -21.2M1993.8 288h29M2007.6 273.5v29M1997.7 277.4l21.2 21.2M1997.7 298.6l21.2 -21.2M1998.3 282h29M2012.1 267.5v29M2002.2 271.4l21.2 21.2M2002.2 292.6l21.2 -21.2M2002.7 276.6h29M2016.5 262.1v29M2006.6 266l21.2 21.2M2006.6 287.2l21.2 -21.2M2007.2 204h29M2021 189.5v29M2011.1 193.4l21.2 21.2M2011.1 214.6l21.2 -21.2M2011.6 204h29M2025.4 189.5v29M2015.5 193.4l21.2 21.2M2015.5 214.6l21.2 -21.2M2016.1 252h29M2029.9 237.5v29M2020 241.4l21.2 21.2M2020 262.6l21.2 -21.2M2020.5 270h29M2034.3 255.5v29M2024.4 259.4l21.2 21.2M2024.4 280.6l21.2 -21.2M2024.9 280.4h29M2038.7 265.9v29M2028.8 269.8l21.2 21.2M2028.8 291l21.2 -21.2M2029.4 270h29M2043.2 255.5v29M2033.3 259.4l21.2 21.2M2033.3 280.6l21.2 -21.2M2033.8 255h29M2047.6 240.5v29M2037.7 244.4l21.2 21.2M2037.7 265.6l21.2 -21.2M2038.3 271.5h29M2052.1 257v29M2042.2 260.9l21.2 21.2M2042.2 282.1l21.2 -21.2M2042.7 204h29M2056.5 189.5v29M2046.6 193.4l21.2 21.2M2046.6 214.6l21.2 -21.2M2047.2 271.5h29M2061 257v29M2051.1 260.9l21.2 21.2M2051.1 282.1l21.2 -21.2M2051.6 280h29M2065.4 265.5v29M2055.5 269.4l21.2 21.2M2055.5 290.6l21.2 -21.2M2056.1 285.4h29M2069.9 270.9v29M2060 274.8l21.2 21.2M2060 296l21.2 -21.2M2060.5 204.4h29M2074.3 189.9v29M2064.4 193.8l21.2 21.2M2064.4 215l21.2 -21.2M2065 284h29M2078.8 269.5v29M2068.9 273.4l21.2 21.2M2068.9 294.6l21.2 -21.2M2069.4 257.6h29M2083.2 243.1v29M2073.3 247l21.2 21.2M2073.3 268.2l21.2 -21.2M2073.9 202.6h29M2087.7 188.1v29M2077.8 192l21.2 21.2M2077.8 213.2l21.2 -21.2M2078.3 204.7h29M2092.1 190.2v29M2082.2 194.1l21.2 21.2M2082.2 215.3l21.2 -21.2M2082.8 199h29M2096.6 184.5v29M2086.7 188.4l21.2 21.2M2086.7 209.6l21.2 -21.2M2087.2 198.7h29M2101 184.2v29M2091.1 188.1l21.2 21.2M2091.1 209.3l21.2 -21.2M2091.7 199.4h29M2105.5 184.9v29M2095.6 188.8l21.2 21.2M2095.6 210l21.2 -21.2M2096.1 197.6h29M2109.9 183.1v29M2100 187l21.2 21.2M2100 208.2l21.2 -21.2M2100.6 195.8h29M2114.4 181.3v29M2104.5 185.2l21.2 21.2M2104.5 206.4l21.2 -21.2M2105 193h29M2118.8 178.5v29M2108.9 182.4l21.2 21.2M2108.9 203.6l21.2 -21.2M2109.5 189.2h29M2123.3 174.7v29M2113.4 178.6l21.2 21.2M2113.4 199.8l21.2 -21.2M2113.9 193.1h29M2127.7 178.6v29M2117.8 182.5l21.2 21.2M2117.8 203.7l21.2 -21.2M2118.4 189.2h29M2132.2 174.7v29M2122.3 178.6l21.2 21.2M2122.3 199.8l21.2 -21.2M2122.8 190.6h29M2136.6 176.1v29M2126.7 180l21.2 21.2M2126.7 201.2l21.2 -21.2M2127.3 190.6h29M2141.1 176.1v29M2131.2 180l21.2 21.2M2131.2 201.2l21.2 -21.2M2131.7 190.6h29M2145.5 176.1v29M2135.6 180l21.2 21.2M2135.6 201.2l21.2 -21.2M2136.2 189.2h29M2150 174.7v29M2140.1 178.6l21.2 21.2M2140.1 199.8l21.2 -21.2M2140.6 189.2h29M2154.4 174.7v29M2144.5 178.6l21.2 21.2M2144.5 199.8l21.2 -21.2M2145.1 284h29M2158.9 269.5v29M2149 273.4l21.2 21.2M2149 294.6l21.2 -21.2M2149.5 250h29M2163.3 235.5v29M2153.4 239.4l21.2 21.2M2153.4 260.6l21.2 -21.2M2154 188h29M2167.8 173.5v29M2157.9 177.4l21.2 21.2M2157.9 198.6l21.2 -21.2M2158.4 225h29M2172.2 210.5v29M2162.3 214.4l21.2 21.2M2162.3 235.6l21.2 -21.2M2162.8 190h29M2176.6 175.5v29M2166.7 179.4l21.2 21.2M2166.7 200.6l21.2 -21.2M2167.3 286.7h29M2181.1 272.2v29M2171.2 276.1l21.2 21.2M2171.2 297.3l21.2 -21.2M2171.7 247.5h29M2185.5 233v29M2175.6 236.9l21.2 21.2M2175.6 258.1l21.2 -21.2M2176.2 289h29M2190 274.5v29M2180.1 278.4l21.2 21.2M2180.1 299.6l21.2 -21.2M2180.6 267.7h29M2194.4 253.2v29M2184.5 257.1l21.2 21.2M2184.5 278.3l21.2 -21.2M2185.1 253.8h29M2198.9 239.3v29M2189 243.2l21.2 21.2M2189 264.4l21.2 -21.2M2189.5 286h29M2203.3 271.5v29M2193.4 275.4l21.2 21.2M2193.4 296.6l21.2 -21.2M2194 232.5h29M2207.8 218v29M2197.9 221.9l21.2 21.2M2197.9 243.1l21.2 -21.2M2198.4 193.7h29M2212.2 179.2v29M2202.3 183.1l21.2 21.2M2202.3 204.3l21.2 -21.2M2202.9 281.6h29M2216.7 267.1v29M2206.8 271l21.2 21.2M2206.8 292.2l21.2 -21.2M2207.3 276h29M2221.1 261.5v29M2211.2 265.4l21.2 21.2M2211.2 286.6l21.2 -21.2M2211.8 280.4h29M2225.6 265.9v29M2215.7 269.8l21.2 21.2M2215.7 291l21.2 -21.2M2216.2 212.7h29M2230 198.2v29M2220.1 202.1l21.2 21.2M2220.1 223.3l21.2 -21.2M2220.7 228.7h29M2234.5 214.2v29M2224.6 218.1l21.2 21.2M2224.6 239.3l21.2 -21.2M2225.1 179h29M2238.9 164.5v29M2229 168.4l21.2 21.2M2229 189.6l21.2 -21.2M2229.6 258.9h29M2243.4 244.4v29M2233.5 248.3l21.2 21.2M2233.5 269.5l21.2 -21.2M2234 181.5h29M2247.8 167v29M2237.9 170.9l21.2 21.2M2237.9 192.1l21.2 -21.2M2238.5 180.4h29M2252.3 165.9v29M2242.4 169.8l21.2 21.2M2242.4 191l21.2 -21.2M2242.9 289.2h29M2256.7 274.7v29M2246.8 278.6l21.2 21.2M2246.8 299.8l21.2 -21.2M2247.4 254.8h29M2261.2 240.3v29M2251.3 244.2l21.2 21.2M2251.3 265.4l21.2 -21.2M2251.8 179h29M2265.6 164.5v29M2255.7 168.4l21.2 21.2M2255.7 189.6l21.2 -21.2M2256.3 179h29M2270.1 164.5v29M2260.2 168.4l21.2 21.2M2260.2 189.6l21.2 -21.2M2260.7 203.8h29M2274.5 189.3v29M2264.6 193.2l21.2 21.2M2264.6 214.4l21.2 -21.2M2265.2 179h29M2279 164.5v29M2269.1 168.4l21.2 21.2M2269.1 189.6l21.2 -21.2M2269.6 180.4h29M2283.4 165.9v29M2273.5 169.8l21.2 21.2M2273.5 191l21.2 -21.2M2274.1 178h29M2287.9 163.5v29M2278 167.4l21.2 21.2M2278 188.6l21.2 -21.2M2278.5 180.4h29M2292.3 165.9v29M2282.4 169.8l21.2 21.2M2282.4 191l21.2 -21.2M2283 180.4h29M2296.8 165.9v29M2286.9 169.8l21.2 21.2M2286.9 191l21.2 -21.2M2287.4 179h29M2301.2 164.5v29M2291.3 168.4l21.2 21.2M2291.3 189.6l21.2 -21.2M2291.8 237.6h29M2305.6 223.1v29M2295.7 227l21.2 21.2M2295.7 248.2l21.2 -21.2M2296.3 178h29M2310.1 163.5v29M2300.2 167.4l21.2 21.2M2300.2 188.6l21.2 -21.2M2300.7 267.7h29M2314.5 253.2v29M2304.6 257.1l21.2 21.2M2304.6 278.3l21.2 -21.2M2305.2 285.2h29M2319 270.7v29M2309.1 274.6l21.2 21.2M2309.1 295.8l21.2 -21.2M2309.6 267.7h29M2323.4 253.2v29M2313.5 257.1l21.2 21.2M2313.5 278.3l21.2 -21.2M2314.1 203.2h29M2327.9 188.7v29M2318 192.6l21.2 21.2M2318 213.8l21.2 -21.2M2318.5 199.4h29M2332.3 184.9v29M2322.4 188.8l21.2 21.2M2322.4 210l21.2 -21.2M2323 261.4h29M2336.8 246.9v29M2326.9 250.8l21.2 21.2M2326.9 272l21.2 -21.2M2327.4 250.6h29M2341.2 236.1v29M2331.3 240l21.2 21.2M2331.3 261.2l21.2 -21.2M2331.9 180.4h29M2345.7 165.9v29M2335.8 169.8l21.2 21.2M2335.8 191l21.2 -21.2M2336.3 181.6h29M2350.1 167.1v29M2340.2 171l21.2 21.2M2340.2 192.2l21.2 -21.2M2340.8 186.7h29M2354.6 172.2v29M2344.7 176.1l21.2 21.2M2344.7 197.3l21.2 -21.2M2345.2 275.3h29M2359 260.8v29M2349.1 264.7l21.2 21.2M2349.1 285.9l21.2 -21.2M2349.7 276.6h29M2363.5 262.1v29M2353.6 266l21.2 21.2M2353.6 287.2l21.2 -21.2M2354.1 281.6h29M2367.9 267.1v29M2358 271l21.2 21.2M2358 292.2l21.2 -21.2M2358.6 255.7h29M2372.4 241.2v29M2362.5 245.1l21.2 21.2M2362.5 266.3l21.2 -21.2M2363 289.9h29M2376.8 275.4v29M2366.9 279.3l21.2 21.2M2366.9 300.5l21.2 -21.2M2367.5 284.2h29M2381.3 269.7v29M2371.4 273.6l21.2 21.2M2371.4 294.8l21.2 -21.2M2371.9 181.6h29M2385.7 167.1v29M2375.8 171l21.2 21.2M2375.8 192.2l21.2 -21.2M2376.4 283h29M2390.2 268.5v29M2380.3 272.4l21.2 21.2M2380.3 293.6l21.2 -21.2M2380.8 286h29M2394.6 271.5v29M2384.7 275.4l21.2 21.2M2384.7 296.6l21.2 -21.2M2385.3 288h29M2399.1 273.5v29M2389.2 277.4l21.2 21.2M2389.2 298.6l21.2 -21.2M2389.7 285.4h29M2403.5 270.9v29M2393.6 274.8l21.2 21.2M2393.6 296l21.2 -21.2M1584.6 203h29M1598.4 188.5v29M1588.5 192.4l21.2 21.2M1588.5 213.6l21.2 -21.2M1769.2 262h29M1783 247.5v29M1773.1 251.4l21.2 21.2M1773.1 272.6l21.2 -21.2M1776 265h29M1789.8 250.5v29M1779.9 254.4l21.2 21.2M1779.9 275.6l21.2 -21.2M1783.2 266h29M1797 251.5v29M1787.1 255.4l21.2 21.2M1787.1 276.6l21.2 -21.2M1792.2 264h29M1806 249.5v29M1796.1 253.4l21.2 21.2M1796.1 274.6l21.2 -21.2M1801 264h29M1814.8 249.5v29M1804.9 253.4l21.2 21.2M1804.9 274.6l21.2 -21.2M1809.7 265h29M1823.5 250.5v29M1813.6 254.4l21.2 21.2M1813.6 275.6l21.2 -21.2M1818.2 264h29M1832 249.5v29M1822.1 253.4l21.2 21.2M1822.1 274.6l21.2 -21.2M1854.7 253.8h29M1868.5 239.2v29M1858.6 243.2l21.2 21.2M1858.6 264.4l21.2 -21.2M1863.2 262h29M1877 247.5v29M1867.1 251.4l21.2 21.2M1867.1 272.6l21.2 -21.2M1877 261.4h29M1890.8 246.9v29M1880.9 250.8l21.2 21.2M1880.9 272l21.2 -21.2M1971.2 204h29M1985 189.5v29M1975.1 193.4l21.2 21.2M1975.1 214.6l21.2 -21.2M2082 219.6h29M2095.8 205.1v29M2085.9 209l21.2 21.2M2085.9 230.2l21.2 -21.2" fill="none" stroke="#ff0000" stroke-width="2" shape-rendering="crispEdges"/>
<path d="M454.7 1691.4h29M468.5 1676.9v29M458.6 1680.8l21.2 21.2M458.6 1702l21.2 -21.2M459.1 1691.4h29M472.9 1676.9v29M463 1680.8l21.2 21.2M463 1702l21.2 -21.2M463.6 1691.4h29M477.4 1676.9v29M467.5 1680.8l21.2 21.2M467.5 1702l21.2 -21.2M468 1691.4h29M481.8 1676.9v29M471.9 1680.8l21.2 21.2M471.9 1702l21.2 -21.2M472.5 1691.4h29M486.3 1676.9v29M476.4 1680.8l21.2 21.2M476.4 1702l21.2 -21.2M476.9 1691.4h29M490.7 1676.9v29M480.8 1680.8l21.2 21.2M480.8 1702l21.2 -21.2M481.4 1690.4h29M495.2 1675.9v29M485.3 1679.8l21.2 21.2M485.3 1701l21.2 -21.2M485.8 1690.4h29M499.6 1675.9v29M489.7 1679.8l21.2 21.2M489.7 1701l21.2 -21.2M490.3 1690.4h29M504.1 1675.9v29M494.2 1679.8l21.2 21.2M494.2 1701l21.2 -21.2M494.7 1691.4h29M508.5 1676.9v29M498.6 1680.8l21.2 21.2M498.6 1702l21.2 -21.2M499.2 1691.4h29M513 1676.9v29M503.1 1680.8l21.2 21.2M503.1 1702l21.2 -21.2M503.6 1691.4h29M517.4 1676.9v29M507.5 1680.8l21.2 21.2M507.5 1702l21.2 -21.2M508.1 1690.4h29M521.9 1675.9v29M512 1679.8l21.2 21.2M512 1701l21.2 -21.2M512.5 1692.4h29M526.3 1677.9v29M516.4 1681.8l21.2 21.2M516.4 1703l21.2 -21.2M517 1691.4h29M530.8 1676.9v29M520.9 1680.8l21.2 21.2M520.9 1702l21.2 -21.2M521.4 1690.4h29M535.2 1675.9v29M525.3 1679.8l21.2 21.2M525.3 1701l21.2 -21.2M525.9 1442h29M539.7 1427.5v29M529.8 1431.4l21.2 21.2M529.8 1452.6l21.2 -21.2M530.3 1691.4h29M544.1 1676.9v29M534.2 1680.8l21.2 21.2M534.2 1702l21.2 -21.2M534.8 1670h29M548.6 1655.5v29M538.7 1659.4l21.2 21.2M538.7 1680.6l21.2 -21.2M539.2 1691.4h29M553 1676.9v29M543.1 1680.8l21.2 21.2M543.1 1702l21.2 -21.2M543.7 1691.4h29M557.5 1676.9v29M547.6 1680.8l21.2 21.2M547.6 1702l21.2 -21.2M548.1 1691.4h29M561.9 1676.9v29M552 1680.8l21.2 21.2M552 1702l21.2 -21.2M552.6 1691.4h29M566.4 1676.9v29M556.5 1680.8l21.2 21.2M556.5 1702l21.2 -21.2M557 1691.4h29M570.8 1676.9v29M560.9 1680.8l21.2 21.2M560.9 1702l21.2 -21.2M561.5 1691.4h29M575.3 1676.9v29M565.4 1680.8l21.2 21.2M565.4 1702l21.2 -21.2M565.9 1691.4h29M579.7 1676.9v29M569.8 1680.8l21.2 21.2M569.8 1702l21.2 -21.2M570.4 1691.4h29M584.2 1676.9v29M574.3 1680.8l21.2 21.2M574.3 1702l21.2 -21.2M574.8 1691.4h29M588.6 1676.9v29M578.7 1680.8l21.2 21.2M578.7 1702l21.2 -21.2M579.3 1691.4h29M593.1 1676.9v29M583.2 1680.8l21.2 21.2M583.2 1702l21.2 -21.2M583.7 1691.4h29M597.5 1676.9v29M587.6 1680.8l21.2 21.2M587.6 1702l21.2 -21.2M588.1 1691.4h29M601.9 1676.9v29M592 1680.8l21.2 21.2M592 1702l21.2 -21.2M592.6 1690.4h29M606.4 1675.9v29M596.5 1679.8l21.2 21.2M596.5 1701l21.2 -21.2M597 1690.4h29M610.8 1675.9v29M600.9 1679.8l21.2 21.2M600.9 1701l21.2 -21.2M601.5 1692.4h29M615.3 1677.9v29M605.4 1681.8l21.2 21.2M605.4 1703l21.2 -21.2M605.9 1690.4h29M619.7 1675.9v29M609.8 1679.8l21.2 21.2M609.8 1701l21.2 -21.2M610.4 1691.4h29M624.2 1676.9v29M614.3 1680.8l21.2 21.2M614.3 1702l21.2 -21.2M614.8 1691.4h29M628.6 1676.9v29M618.7 1680.8l21.2 21.2M618.7 1702l21.2 -21.2M619.3 1691.4h29M633.1 1676.9v29M623.2 1680.8l21.2 21.2M623.2 1702l21.2 -21.2M623.7 1691.4h29M637.5 1676.9v29M627.6 1680.8l21.2 21.2M627.6 1702l21.2 -21.2M628.2 1691.4h29M642 1676.9v29M632.1 1680.8l21.2 21.2M632.1 1702l21.2 -21.2M632.6 1691.4h29M646.4 1676.9v29M636.5 1680.8l21.2 21.2M636.5 1702l21.2 -21.2M637.1 1691.4h29M650.9 1676.9v29M641 1680.8l21.2 21.2M641 1702l21.2 -21.2M641.5 1691.4h29M655.3 1676.9v29M645.4 1680.8l21.2 21.2M645.4 1702l21.2 -21.2M646 1691.4h29M659.8 1676.9v29M649.9 1680.8l21.2 21.2M649.9 1702l21.2 -21.2M650.4 1691.4h29M664.2 1676.9v29M654.3 1680.8l21.2 21.2M654.3 1702l21.2 -21.2M654.9 1691.4h29M668.7 1676.9v29M658.8 1680.8l21.2 21.2M658.8 1702l21.2 -21.2M659.3 1691.4h29M673.1 1676.9v29M663.2 1680.8l21.2 21.2M663.2 1702l21.2 -21.2M663.8 1692.4h29M677.6 1677.9v29M667.7 1681.8l21.2 21.2M667.7 1703l21.2 -21.2M668.2 1691.4h29M682 1676.9v29M672.1 1680.8l21.2 21.2M672.1 1702l21.2 -21.2M672.7 1691.4h29M686.5 1676.9v29M676.6 1680.8l21.2 21.2M676.6 1702l21.2 -21.2M677.1 1691.4h29M690.9 1676.9v29M681 1680.8l21.2 21.2M681 1702l21.2 -21.2M681.6 1691.4h29M695.4 1676.9v29M685.5 1680.8l21.2 21.2M685.5 1702l21.2 -21.2M686 1690.4h29M699.8 1675.9v29M689.9 1679.8l21.2 21.2M689.9 1701l21.2 -21.2M690.5 1691.4h29M704.3 1676.9v29M694.4 1680.8l21.2 21.2M694.4 1702l21.2 -21.2M694.9 1691.4h29M708.7 1676.9v29M698.8 1680.8l21.2 21.2M698.8 1702l21.2 -21.2M699.4 1690.4h29M713.2 1675.9v29M703.3 1679.8l21.2 21.2M703.3 1701l21.2 -21.2M703.8 1691.4h29M717.6 1676.9v29M707.7 1680.8l21.2 21.2M707.7 1702l21.2 -21.2M708.3 1691.4h29M722.1 1676.9v29M712.2 1680.8l21.2 21.2M712.2 1702l21.2 -21.2M712.7 1692.4h29M726.5 1677.9v29M716.6 1681.8l21.2 21.2M716.6 1703l21.2 -21.2M717.1 1691.4h29M730.9 1676.9v29M721 1680.8l21.2 21.2M721 1702l21.2 -21.2M721.6 1644h29M735.4 1629.5v29M725.5 1633.4l21.2 21.2M725.5 1654.6l21.2 -21.2M726 1690.4h29M739.8 1675.9v29M729.9 1679.8l21.2 21.2M729.9 1701l21.2 -21.2M730.5 1691.4h29M744.3 1676.9v29M734.4 1680.8l21.2 21.2M734.4 1702l21.2 -21.2M734.9 1691.4h29M748.7 1676.9v29M738.8 1680.8l21.2 21.2M738.8 1702l21.2 -21.2M739.4 1691.4h29M753.2 1676.9v29M743.3 1680.8l21.2 21.2M743.3 1702l21.2 -21.2M743.8 1691.4h29M757.6 1676.9v29M747.7 1680.8l21.2 21.2M747.7 1702l21.2 -21.2M748.3 1691.4h29M762.1 1676.9v29M752.2 1680.8l21.2 21.2M752.2 1702l21.2 -21.2M752.7 1691.4h29M766.5 1676.9v29M756.6 1680.8l21.2 21.2M756.6 1702l21.2 -21.2M757.2 1691.4h29M771 1676.9v29M761.1 1680.8l21.2 21.2M761.1 1702l21.2 -21.2M761.6 1691.4h29M775.4 1676.9v29M765.5 1680.8l21.2 21.2M765.5 1702l21.2 -21.2M766.1 1691.4h29M779.9 1676.9v29M770 1680.8l21.2 21.2M770 1702l21.2 -21.2M770.5 1690.4h29M784.3 1675.9v29M774.4 1679.8l21.2 21.2M774.4 1701l21.2 -21.2M775 1481h29M788.8 1466.5v29M778.9 1470.4l21.2 21.2M778.9 1491.6l21.2 -21.2M779.4 1691.4h29M793.2 1676.9v29M783.3 1680.8l21.2 21.2M783.3 1702l21.2 -21.2M783.9 1690.4h29M797.7 1675.9v29M787.8 1679.8l21.2 21.2M787.8 1701l21.2 -21.2M788.3 1690.4h29M802.1 1675.9v29M792.2 1679.8l21.2 21.2M792.2 1701l21.2 -21.2M792.8 1691.4h29M806.6 1676.9v29M796.7 1680.8l21.2 21.2M796.7 1702l21.2 -21.2M797.2 1691.4h29M811 1676.9v29M801.1 1680.8l21.2 21.2M801.1 1702l21.2 -21.2M801.7 1691.4h29M815.5 1676.9v29M805.6 1680.8l21.2 21.2M805.6 1702l21.2 -21.2M806.1 1622.5h29M819.9 1608v29M810 1611.9l21.2 21.2M810 1633.1l21.2 -21.2M810.6 1691.4h29M824.4 1676.9v29M814.5 1680.8l21.2 21.2M814.5 1702l21.2 -21.2M815 1691.4h29M828.8 1676.9v29M818.9 1680.8l21.2 21.2M818.9 1702l21.2 -21.2M819.5 1691.4h29M833.3 1676.9v29M823.4 1680.8l21.2 21.2M823.4 1702l21.2 -21.2M823.9 1691.4h29M837.7 1676.9v29M827.8 1680.8l21.2 21.2M827.8 1702l21.2 -21.2M828.4 1690.4h29M842.2 1675.9v29M832.3 1679.8l21.2 21.2M832.3 1701l21.2 -21.2M832.8 1686h29M846.6 1671.5v29M836.7 1675.4l21.2 21.2M836.7 1696.6l21.2 -21.2M837.3 1684h29M851.1 1669.5v29M841.2 1673.4l21.2 21.2M841.2 1694.6l21.2 -21.2M841.7 1686h29M855.5 1671.5v29M845.6 1675.4l21.2 21.2M845.6 1696.6l21.2 -21.2M846.2 1690.4h29M860 1675.9v29M850.1 1679.8l21.2 21.2M850.1 1701l21.2 -21.2M850.6 1691.4h29M864.4 1676.9v29M854.5 1680.8l21.2 21.2M854.5 1702l21.2 -21.2M855 1690.4h29M868.8 1675.9v29M858.9 1679.8l21.2 21.2M858.9 1701l21.2 -21.2M859.5 1691.4h29M873.3 1676.9v29M863.4 1680.8l21.2 21.2M863.4 1702l21.2 -21.2M863.9 1691.4h29M877.7 1676.9v29M867.8 1680.8l21.2 21.2M867.8 1702l21.2 -21.2M868.4 1690.4h29M882.2 1675.9v29M872.3 1679.8l21.2 21.2M872.3 1701l21.2 -21.2M872.8 1690.4h29M886.6 1675.9v29M876.7 1679.8l21.2 21.2M876.7 1701l21.2 -21.2M877.3 1691.4h29M891.1 1676.9v29M881.2 1680.8l21.2 21.2M881.2 1702l21.2 -21.2M881.7 1690.4h29M895.5 1675.9v29M885.6 1679.8l21.2 21.2M885.6 1701l21.2 -21.2M886.2 1691.4h29M900 1676.9v29M890.1 1680.8l21.2 21.2M890.1 1702l21.2 -21.2M890.6 1691.4h29M904.4 1676.9v29M894.5 1680.8l21.2 21.2M894.5 1702l21.2 -21.2M895.1 1691.4h29M908.9 1676.9v29M899 1680.8l21.2 21.2M899 1702l21.2 -21.2M899.5 1691.4h29M913.3 1676.9v29M903.4 1680.8l21.2 21.2M903.4 1702l21.2 -21.2M904 1691.4h29M917.8 1676.9v29M907.9 1680.8l21.2 21.2M907.9 1702l21.2 -21.2M908.4 1666h29M922.2 1651.5v29M912.3 1655.4l21.2 21.2M912.3 1676.6l21.2 -21.2M912.9 1691.4h29M926.7 1676.9v29M916.8 1680.8l21.2 21.2M916.8 1702l21.2 -21.2M917.3 1691.4h29M931.1 1676.9v29M921.2 1680.8l21.2 21.2M921.2 1702l21.2 -21.2M921.8 1691.4h29M935.6 1676.9v29M925.7 1680.8l21.2 21.2M925.7 1702l21.2 -21.2M926.2 1691.4h29M940 1676.9v29M930.1 1680.8l21.2 21.2M930.1 1702l21.2 -21.2M930.7 1691.4h29M944.5 1676.9v29M934.6 1680.8l21.2 21.2M934.6 1702l21.2 -21.2M935.1 1691.4h29M948.9 1676.9v29M939 1680.8l21.2 21.2M939 1702l21.2 -21.2M939.6 1691.4h29M953.4 1676.9v29M943.5 1680.8l21.2 21.2M943.5 1702l21.2 -21.2M944 1691.4h29M957.8 1676.9v29M947.9 1680.8l21.2 21.2M947.9 1702l21.2 -21.2M948.5 1691.4h29M962.3 1676.9v29M952.4 1680.8l21.2 21.2M952.4 1702l21.2 -21.2M952.9 1691.4h29M966.7 1676.9v29M956.8 1680.8l21.2 21.2M956.8 1702l21.2 -21.2M957.4 1691.4h29M971.2 1676.9v29M961.3 1680.8l21.2 21.2M961.3 1702l21.2 -21.2M961.8 1691.4h29M975.6 1676.9v29M965.7 1680.8l21.2 21.2M965.7 1702l21.2 -21.2M966.3 1690.4h29M980.1 1675.9v29M970.2 1679.8l21.2 21.2M970.2 1701l21.2 -21.2M970.7 1691.4h29M984.5 1676.9v29M974.6 1680.8l21.2 21.2M974.6 1702l21.2 -21.2M975.2 1692.4h29M989 1677.9v29M979.1 1681.8l21.2 21.2M979.1 1703l21.2 -21.2M979.6 1691.4h29M993.4 1676.9v29M983.5 1680.8l21.2 21.2M983.5 1702l21.2 -21.2M984 1691.4h29M997.8 1676.9v29M987.9 1680.8l21.2 21.2M987.9 1702l21.2 -21.2M988.5 1691.4h29M1002.3 1676.9v29M992.4 1680.8l21.2 21.2M992.4 1702l21.2 -21.2M992.9 1690.4h29M1006.7 1675.9v29M996.8 1679.8l21.2 21.2M996.8 1701l21.2 -21.2M997.4 1691.4h29M1011.2 1676.9v29M1001.3 1680.8l21.2 21.2M1001.3 1702l21.2 -21.2M1001.8 1691.4h29M1015.6 1676.9v29M1005.7 1680.8l21.2 21.2M1005.7 1702l21.2 -21.2M1006.3 1691.4h29M1020.1 1676.9v29M1010.2 1680.8l21.2 21.2M1010.2 1702l21.2 -21.2M1010.7 1690.4h29M1024.5 1675.9v29M1014.6 1679.8l21.2 21.2M1014.6 1701l21.2 -21.2M1015.2 1691.4h29M1029 1676.9v29M1019.1 1680.8l21.2 21.2M1019.1 1702l21.2 -21.2M1019.6 1691.4h29M1033.4 1676.9v29M1023.5 1680.8l21.2 21.2M1023.5 1702l21.2 -21.2M1024.1 1691.4h29M1037.9 1676.9v29M1028 1680.8l21.2 21.2M1028 1702l21.2 -21.2M1028.5 1691.4h29M1042.3 1676.9v29M1032.4 1680.8l21.2 21.2M1032.4 1702l21.2 -21.2M1033 1690.4h29M1046.8 1675.9v29M1036.9 1679.8l21.2 21.2M1036.9 1701l21.2 -21.2M1037.4 1691.4h29M1051.2 1676.9v29M1041.3 1680.8l21.2 21.2M1041.3 1702l21.2 -21.2M1041.9 1691.4h29M1055.7 1676.9v29M1045.8 1680.8l21.2 21.2M1045.8 1702l21.2 -21.2M1046.3 1691.4h29M1060.1 1676.9v29M1050.2 1680.8l21.2 21.2M1050.2 1702l21.2 -21.2M1050.8 1686h29M1064.6 1671.5v29M1054.7 1675.4l21.2 21.2M1054.7 1696.6l21.2 -21.2M1055.2 1691.4h29M1069 1676.9v29M1059.1 1680.8l21.2 21.2M1059.1 1702l21.2 -21.2M1059.7 1691.4h29M1073.5 1676.9v29M1063.6 1680.8l21.2 21.2M1063.6 1702l21.2 -21.2M1064.1 1691.4h29M1077.9 1676.9v29M1068 1680.8l21.2 21.2M1068 1702l21.2 -21.2M1068.6 1691.4h29M1082.4 1676.9v29M1072.5 1680.8l21.2 21.2M1072.5 1702l21.2 -21.2M1073 1691.4h29M1086.8 1676.9v29M1076.9 1680.8l21.2 21.2M1076.9 1702l21.2 -21.2M1077.5 1691.4h29M1091.3 1676.9v29M1081.4 1680.8l21.2 21.2M1081.4 1702l21.2 -21.2M1081.9 1691.4h29M1095.7 1676.9v29M1085.8 1680.8l21.2 21.2M1085.8 1702l21.2 -21.2M1086.4 1690.4h29M1100.2 1675.9v29M1090.3 1679.8l21.2 21.2M1090.3 1701l21.2 -21.2M1090.8 1691.4h29M1104.6 1676.9v29M1094.7 1680.8l21.2 21.2M1094.7 1702l21.2 -21.2M1095.3 1690.4h29M1109.1 1675.9v29M1099.2 1679.8l21.2 21.2M1099.2 1701l21.2 -21.2M1099.7 1691.4h29M1113.5 1676.9v29M1103.6 1680.8l21.2 21.2M1103.6 1702l21.2 -21.2M1104.2 1691.4h29M1118 1676.9v29M1108.1 1680.8l21.2 21.2M1108.1 1702l21.2 -21.2M1108.6 1690.4h29M1122.4 1675.9v29M1112.5 1679.8l21.2 21.2M1112.5 1701l21.2 -21.2M1113 1691.4h29M1126.8 1676.9v29M1116.9 1680.8l21.2 21.2M1116.9 1702l21.2 -21.2M1117.5 1691.4h29M1131.3 1676.9v29M1121.4 1680.8l21.2 21.2M1121.4 1702l21.2 -21.2M1121.9 1691.4h29M1135.7 1676.9v29M1125.8 1680.8l21.2 21.2M1125.8 1702l21.2 -21.2M1126.4 1691.4h29M1140.2 1676.9v29M1130.3 1680.8l21.2 21.2M1130.3 1702l21.2 -21.2M1130.8 1691.4h29M1144.6 1676.9v29M1134.7 1680.8l21.2 21.2M1134.7 1702l21.2 -21.2M1135.3 1691.4h29M1149.1 1676.9v29M1139.2 1680.8l21.2 21.2M1139.2 1702l21.2 -21.2M1139.7 1692.4h29M1153.5 1677.9v29M1143.6 1681.8l21.2 21.2M1143.6 1703l21.2 -21.2M1144.2 1691.4h29M1158 1676.9v29M1148.1 1680.8l21.2 21.2M1148.1 1702l21.2 -21.2M1148.6 1691.4h29M1162.4 1676.9v29M1152.5 1680.8l21.2 21.2M1152.5 1702l21.2 -21.2M1153.1 1691.4h29M1166.9 1676.9v29M1157 1680.8l21.2 21.2M1157 1702l21.2 -21.2M1157.5 1691.4h29M1171.3 1676.9v29M1161.4 1680.8l21.2 21.2M1161.4 1702l21.2 -21.2M1162 1691.4h29M1175.8 1676.9v29M1165.9 1680.8l21.2 21.2M1165.9 1702l21.2 -21.2M1166.4 1691.4h29M1180.2 1676.9v29M1170.3 1680.8l21.2 21.2M1170.3 1702l21.2 -21.2M1170.9 1691.4h29M1184.7 1676.9v29M1174.8 1680.8l21.2 21.2M1174.8 1702l21.2 -21.2M1175.3 1686h29M1189.1 1671.5v29M1179.2 1675.4l21.2 21.2M1179.2 1696.6l21.2 -21.2M1179.8 1690.4h29M1193.6 1675.9v29M1183.7 1679.8l21.2 21.2M1183.7 1701l21.2 -21.2M1184.2 1691.4h29M1198 1676.9v29M1188.1 1680.8l21.2 21.2M1188.1 1702l21.2 -21.2M1188.7 1692.4h29M1202.5 1677.9v29M1192.6 1681.8l21.2 21.2M1192.6 1703l21.2 -21.2M1193.1 1691.4h29M1206.9 1676.9v29M1197 1680.8l21.2 21.2M1197 1702l21.2 -21.2M1197.6 1691.4h29M1211.4 1676.9v29M1201.5 1680.8l21.2 21.2M1201.5 1702l21.2 -21.2M1202 1690.4h29M1215.8 1675.9v29M1205.9 1679.8l21.2 21.2M1205.9 1701l21.2 -21.2M1206.5 1691.4h29M1220.3 1676.9v29M1210.4 1680.8l21.2 21.2M1210.4 1702l21.2 -21.2M1210.9 1691.4h29M1224.7 1676.9v29M1214.8 1680.8l21.2 21.2M1214.8 1702l21.2 -21.2M1215.4 1692.4h29M1229.2 1677.9v29M1219.3 1681.8l21.2 21.2M1219.3 1703l21.2 -21.2M1219.8 1691.4h29M1233.6 1676.9v29M1223.7 1680.8l21.2 21.2M1223.7 1702l21.2 -21.2M1224.3 1691.4h29M1238.1 1676.9v29M1228.2 1680.8l21.2 21.2M1228.2 1702l21.2 -21.2M1228.7 1690.4h29M1242.5 1675.9v29M1232.6 1679.8l21.2 21.2M1232.6 1701l21.2 -21.2M1233.2 1691.4h29M1247 1676.9v29M1237.1 1680.8l21.2 21.2M1237.1 1702l21.2 -21.2M1237.6 1690.4h29M1251.4 1675.9v29M1241.5 1679.8l21.2 21.2M1241.5 1701l21.2 -21.2M1242 1691.4h29M1255.8 1676.9v29M1245.9 1680.8l21.2 21.2M1245.9 1702l21.2 -21.2M1246.5 1690.4h29M1260.3 1675.9v29M1250.4 1679.8l21.2 21.2M1250.4 1701l21.2 -21.2M1250.9 1690.4h29M1264.7 1675.9v29M1254.8 1679.8l21.2 21.2M1254.8 1701l21.2 -21.2M1255.4 1692.4h29M1269.2 1677.9v29M1259.3 1681.8l21.2 21.2M1259.3 1703l21.2 -21.2M1259.8 1691.4h29M1273.6 1676.9v29M1263.7 1680.8l21.2 21.2M1263.7 1702l21.2 -21.2M1264.3 1692.4h29M1278.1 1677.9v29M1268.2 1681.8l21.2 21.2M1268.2 1703l21.2 -21.2M1268.7 1691.4h29M1282.5 1676.9v29M1272.6 1680.8l21.2 21.2M1272.6 1702l21.2 -21.2M1273.2 1691.4h29M1287 1676.9v29M1277.1 1680.8l21.2 21.2M1277.1 1702l21.2 -21.2M1277.6 1691.4h29M1291.4 1676.9v29M1281.5 1680.8l21.2 21.2M1281.5 1702l21.2 -21.2M1282.1 1691.4h29M1295.9 1676.9v29M1286 1680.8l21.2 21.2M1286 1702l21.2 -21.2M1286.5 1691.4h29M1300.3 1676.9v29M1290.4 1680.8l21.2 21.2M1290.4 1702l21.2 -21.2M1291 1691.4h29M1304.8 1676.9v29M1294.9 1680.8l21.2 21.2M1294.9 1702l21.2 -21.2M1295.4 1691.4h29M1309.2 1676.9v29M1299.3 1680.8l21.2 21.2M1299.3 1702l21.2 -21.2M1299.9 1691.4h29M1313.7 1676.9v29M1303.8 1680.8l21.2 21.2M1303.8 1702l21.2 -21.2M1304.3 1690.4h29M1318.1 1675.9v29M1308.2 1679.8l21.2 21.2M1308.2 1701l21.2 -21.2M1308.8 1690.4h29M1322.6 1675.9v29M1312.7 1679.8l21.2 21.2M1312.7 1701l21.2 -21.2M1313.2 1691.4h29M1327 1676.9v29M1317.1 1680.8l21.2 21.2M1317.1 1702l21.2 -21.2M1317.7 1691.4h29M1331.5 1676.9v29M1321.6 1680.8l21.2 21.2M1321.6 1702l21.2 -21.2M1322.1 1690.4h29M1335.9 1675.9v29M1326 1679.8l21.2 21.2M1326 1701l21.2 -21.2M1326.6 1691.4h29M1340.4 1676.9v29M1330.5 1680.8l21.2 21.2M1330.5 1702l21.2 -21.2M1331 1684.3h29M1344.8 1669.8v29M1334.9 1673.7l21.2 21.2M1334.9 1694.9l21.2 -21.2M1335.5 1691.4h29M1349.3 1676.9v29M1339.4 1680.8l21.2 21.2M1339.4 1702l21.2 -21.2M1339.9 1691.4h29M1353.7 1676.9v29M1343.8 1680.8l21.2 21.2M1343.8 1702l21.2 -21.2M1344.4 1690.4h29M1358.2 1675.9v29M1348.3 1679.8l21.2 21.2M1348.3 1701l21.2 -21.2M1348.8 1691.4h29M1362.6 1676.9v29M1352.7 1680.8l21.2 21.2M1352.7 1702l21.2 -21.2M1353.3 1690.4h29M1367.1 1675.9v29M1357.2 1679.8l21.2 21.2M1357.2 1701l21.2 -21.2M1357.7 1675h29M1371.5 1660.5v29M1361.6 1664.4l21.2 21.2M1361.6 1685.6l21.2 -21.2M1362.2 1691.4h29M1376 1676.9v29M1366.1 1680.8l21.2 21.2M1366.1 1702l21.2 -21.2M1366.6 1690.4h29M1380.4 1675.9v29M1370.5 1679.8l21.2 21.2M1370.5 1701l21.2 -21.2M1371 1691.4h29M1384.8 1676.9v29M1374.9 1680.8l21.2 21.2M1374.9 1702l21.2 -21.2M1375.5 1690.4h29M1389.3 1675.9v29M1379.4 1679.8l21.2 21.2M1379.4 1701l21.2 -21.2M1379.9 1691.4h29M1393.7 1676.9v29M1383.8 1680.8l21.2 21.2M1383.8 1702l21.2 -21.2M1384.4 1664.5h29M1398.2 1650v29M1388.3 1653.9l21.2 21.2M1388.3 1675.1l21.2 -21.2M1397.7 1691.4h29M1411.5 1676.9v29M1401.6 1680.8l21.2 21.2M1401.6 1702l21.2 -21.2M1402.2 1691.4h29M1416 1676.9v29M1406.1 1680.8l21.2 21.2M1406.1 1702l21.2 -21.2M1406.6 1690.4h29M1420.4 1675.9v29M1410.5 1679.8l21.2 21.2M1410.5 1701l21.2 -21.2M1411.1 1690.4h29M1424.9 1675.9v29M1415 1679.8l21.2 21.2M1415 1701l21.2 -21.2M1415.5 1691.4h29M1429.3 1676.9v29M1419.4 1680.8l21.2 21.2M1419.4 1702l21.2 -21.2M1420 1691.4h29M1433.8 1676.9v29M1423.9 1680.8l21.2 21.2M1423.9 1702l21.2 -21.2M1424.4 1690.4h29M1438.2 1675.9v29M1428.3 1679.8l21.2 21.2M1428.3 1701l21.2 -21.2M1428.9 1691.4h29M1442.7 1676.9v29M1432.8 1680.8l21.2 21.2M1432.8 1702l21.2 -21.2M1433.3 1691.4h29M1447.1 1676.9v29M1437.2 1680.8l21.2 21.2M1437.2 1702l21.2 -21.2M1437.8 472h29M1451.6 457.5v29M1441.7 461.4l21.2 21.2M1441.7 482.6l21.2 -21.2M1446.7 1691.4h29M1460.5 1676.9v29M1450.6 1680.8l21.2 21.2M1450.6 1702l21.2 -21.2M1451.1 1692.4h29M1464.9 1677.9v29M1455 1681.8l21.2 21.2M1455 1703l21.2 -21.2M1455.6 1691.4h29M1469.4 1676.9v29M1459.5 1680.8l21.2 21.2M1459.5 1702l21.2 -21.2M1460 1691.4h29M1473.8 1676.9v29M1463.9 1680.8l21.2 21.2M1463.9 1702l21.2 -21.2M1464.5 1691.4h29M1478.3 1676.9v29M1468.4 1680.8l21.2 21.2M1468.4 1702l21.2 -21.2M1468.9 1691.4h29M1482.7 1676.9v29M1472.8 1680.8l21.2 21.2M1472.8 1702l21.2 -21.2M1473.4 1657.5h29M1487.2 1643v29M1477.3 1646.9l21.2 21.2M1477.3 1668.1l21.2 -21.2M1477.8 1516h29M1491.6 1501.5v29M1481.7 1505.4l21.2 21.2M1481.7 1526.6l21.2 -21.2M1486.7 399.5h29M1500.5 385v29M1490.6 388.9l21.2 21.2M1490.6 410.1l21.2 -21.2M1491.2 1691.4h29M1505 1676.9v29M1495.1 1680.8l21.2 21.2M1495.1 1702l21.2 -21.2M1495.6 1653h29M1509.4 1638.5v29M1499.5 1642.4l21.2 21.2M1499.5 1663.6l21.2 -21.2M1500.1 1684.5h29M1513.9 1670v29M1504 1673.9l21.2 21.2M1504 1695.1l21.2 -21.2M1504.5 1691.4h29M1518.3 1676.9v29M1508.4 1680.8l21.2 21.2M1508.4 1702l21.2 -21.2M1508.9 1684.5h29M1522.7 1670v29M1512.8 1673.9l21.2 21.2M1512.8 1695.1l21.2 -21.2M1513.4 1683h29M1527.2 1668.5v29M1517.3 1672.4l21.2 21.2M1517.3 1693.6l21.2 -21.2M1517.8 1687h29M1531.6 1672.5v29M1521.7 1676.4l21.2 21.2M1521.7 1697.6l21.2 -21.2M1522.3 1685.5h29M1536.1 1671v29M1526.2 1674.9l21.2 21.2M1526.2 1696.1l21.2 -21.2M1526.7 1683h29M1540.5 1668.5v29M1530.6 1672.4l21.2 21.2M1530.6 1693.6l21.2 -21.2M1531.2 1683h29M1545 1668.5v29M1535.1 1672.4l21.2 21.2M1535.1 1693.6l21.2 -21.2M1535.6 1684.5h29M1549.4 1670v29M1539.5 1673.9l21.2 21.2M1539.5 1695.1l21.2 -21.2M1540.1 1502.5h29M1553.9 1488v29M1544 1491.9l21.2 21.2M1544 1513.1l21.2 -21.2M1544.5 1525h29M1558.3 1510.5v29M1548.4 1514.4l21.2 21.2M1548.4 1535.6l21.2 -21.2M1549 1434h29M1562.8 1419.5v29M1552.9 1423.4l21.2 21.2M1552.9 1444.6l21.2 -21.2M1553.4 1572h29M1567.2 1557.5v29M1557.3 1561.4l21.2 21.2M1557.3 1582.6l21.2 -21.2M1557.9 1691.4h29M1571.7 1676.9v29M1561.8 1680.8l21.2 21.2M1561.8 1702l21.2 -21.2M1562.3 1691.4h29M1576.1 1676.9v29M1566.2 1680.8l21.2 21.2M1566.2 1702l21.2 -21.2M1566.8 1691.4h29M1580.6 1676.9v29M1570.7 1680.8l21.2 21.2M1570.7 1702l21.2 -21.2M1571.2 1690.4h29M1585 1675.9v29M1575.1 1679.8l21.2 21.2M1575.1 1701l21.2 -21.2M1575.7 1691.4h29M1589.5 1676.9v29M1579.6 1680.8l21.2 21.2M1579.6 1702l21.2 -21.2M1580.1 1691.4h29M1593.9 1676.9v29M1584 1680.8l21.2 21.2M1584 1702l21.2 -21.2M1589 1691.4h29M1602.8 1676.9v29M1592.9 1680.8l21.2 21.2M1592.9 1702l21.2 -21.2M1593.5 1690.4h29M1607.3 1675.9v29M1597.4 1679.8l21.2 21.2M1597.4 1701l21.2 -21.2M1597.9 1690.4h29M1611.7 1675.9v29M1601.8 1679.8l21.2 21.2M1601.8 1701l21.2 -21.2M1602.4 1691.4h29M1616.2 1676.9v29M1606.3 1680.8l21.2 21.2M1606.3 1702l21.2 -21.2M1606.8 1691.4h29M1620.6 1676.9v29M1610.7 1680.8l21.2 21.2M1610.7 1702l21.2 -21.2M1611.3 1691.4h29M1625.1 1676.9v29M1615.2 1680.8l21.2 21.2M1615.2 1702l21.2 -21.2M1615.7 1691.4h29M1629.5 1676.9v29M1619.6 1680.8l21.2 21.2M1619.6 1702l21.2 -21.2M1686.9 1690.4h29M1700.7 1675.9v29M1690.8 1679.8l21.2 21.2M1690.8 1701l21.2 -21.2M1695.8 1691.4h29M1709.6 1676.9v29M1699.7 1680.8l21.2 21.2M1699.7 1702l21.2 -21.2M1704.7 1691.4h29M1718.5 1676.9v29M1708.6 1680.8l21.2 21.2M1708.6 1702l21.2 -21.2M1713.6 1690.4h29M1727.4 1675.9v29M1717.5 1679.8l21.2 21.2M1717.5 1701l21.2 -21.2M1722.5 1563h29M1736.3 1548.5v29M1726.4 1552.4l21.2 21.2M1726.4 1573.6l21.2 -21.2M1731.4 1691.4h29M1745.2 1676.9v29M1735.3 1680.8l21.2 21.2M1735.3 1702l21.2 -21.2M1740.3 1691.4h29M1754.1 1676.9v29M1744.2 1680.8l21.2 21.2M1744.2 1702l21.2 -21.2M1758.1 1691.4h29M1771.9 1676.9v29M1762 1680.8l21.2 21.2M1762 1702l21.2 -21.2M1829.2 1438h29M1843 1423.5v29M1833.1 1427.4l21.2 21.2M1833.1 1448.6l21.2 -21.2M1838.1 1691.4h29M1851.9 1676.9v29M1842 1680.8l21.2 21.2M1842 1702l21.2 -21.2M1847 1691.4h29M1860.8 1676.9v29M1850.9 1680.8l21.2 21.2M1850.9 1702l21.2 -21.2M1873.7 1545.5h29M1887.5 1531v29M1877.6 1534.9l21.2 21.2M1877.6 1556.1l21.2 -21.2M1882.6 1691.4h29M1896.4 1676.9v29M1886.5 1680.8l21.2 21.2M1886.5 1702l21.2 -21.2M1891.5 1691.4h29M1905.3 1676.9v29M1895.4 1680.8l21.2 21.2M1895.4 1702l21.2 -21.2M1900.4 1691.4h29M1914.2 1676.9v29M1904.3 1680.8l21.2 21.2M1904.3 1702l21.2 -21.2M1904.8 1691.4h29M1918.6 1676.9v29M1908.7 1680.8l21.2 21.2M1908.7 1702l21.2 -21.2M1909.3 1690.4h29M1923.1 1675.9v29M1913.2 1679.8l21.2 21.2M1913.2 1701l21.2 -21.2M1913.7 1690.4h29M1927.5 1675.9v29M1917.6 1679.8l21.2 21.2M1917.6 1701l21.2 -21.2M1918.2 1691.4h29M1932 1676.9v29M1922.1 1680.8l21.2 21.2M1922.1 1702l21.2 -21.2M1922.6 1691.4h29M1936.4 1676.9v29M1926.5 1680.8l21.2 21.2M1926.5 1702l21.2 -21.2M1927.1 1691.4h29M1940.9 1676.9v29M1931 1680.8l21.2 21.2M1931 1702l21.2 -21.2M1931.5 1691.4h29M1945.3 1676.9v29M1935.4 1680.8l21.2 21.2M1935.4 1702l21.2 -21.2M1936 1690.4h29M1949.8 1675.9v29M1939.9 1679.8l21.2 21.2M1939.9 1701l21.2 -21.2M1940.4 1692.4h29M1954.2 1677.9v29M1944.3 1681.8l21.2 21.2M1944.3 1703l21.2 -21.2M1949.3 1691.4h29M1963.1 1676.9v29M1953.2 1680.8l21.2 21.2M1953.2 1702l21.2 -21.2M1953.8 1690.4h29M1967.6 1675.9v29M1957.7 1679.8l21.2 21.2M1957.7 1701l21.2 -21.2M1958.2 1691.4h29M1972 1676.9v29M1962.1 1680.8l21.2 21.2M1962.1 1702l21.2 -21.2M1962.7 1690.4h29M1976.5 1675.9v29M1966.6 1679.8l21.2 21.2M1966.6 1701l21.2 -21.2M1976 1690.4h29M1989.8 1675.9v29M1979.9 1679.8l21.2 21.2M1979.9 1701l21.2 -21.2M1980.5 1691.4h29M1994.3 1676.9v29M1984.4 1680.8l21.2 21.2M1984.4 1702l21.2 -21.2M1984.9 1691.4h29M1998.7 1676.9v29M1988.8 1680.8l21.2 21.2M1988.8 1702l21.2 -21.2M1989.4 1691.4h29M2003.2 1676.9v29M1993.3 1680.8l21.2 21.2M1993.3 1702l21.2 -21.2M1993.8 1691.4h29M2007.6 1676.9v29M1997.7 1680.8l21.2 21.2M1997.7 1702l21.2 -21.2M1998.3 1691.4h29M2012.1 1676.9v29M2002.2 1680.8l21.2 21.2M2002.2 1702l21.2 -21.2M2002.7 1691.4h29M2016.5 1676.9v29M2006.6 1680.8l21.2 21.2M2006.6 1702l21.2 -21.2M2007.2 1691.4h29M2021 1676.9v29M2011.1 1680.8l21.2 21.2M2011.1 1702l21.2 -21.2M2011.6 1691.4h29M2025.4 1676.9v29M2015.5 1680.8l21.2 21.2M2015.5 1702l21.2 -21.2M2016.1 1691.4h29M2029.9 1676.9v29M2020 1680.8l21.2 21.2M2020 1702l21.2 -21.2M2020.5 1690.4h29M2034.3 1675.9v29M2024.4 1679.8l21.2 21.2M2024.4 1701l21.2 -21.2M2024.9 1690.4h29M2038.7 1675.9v29M2028.8 1679.8l21.2 21.2M2028.8 1701l21.2 -21.2M2029.4 1691.4h29M2043.2 1676.9v29M2033.3 1680.8l21.2 21.2M2033.3 1702l21.2 -21.2M2033.8 1691.4h29M2047.6 1676.9v29M2037.7 1680.8l21.2 21.2M2037.7 1702l21.2 -21.2M2038.3 1691.4h29M2052.1 1676.9v29M2042.2 1680.8l21.2 21.2M2042.2 1702l21.2 -21.2M2042.7 1691.4h29M2056.5 1676.9v29M2046.6 1680.8l21.2 21.2M2046.6 1702l21.2 -21.2M2047.2 1691.4h29M2061 1676.9v29M2051.1 1680.8l21.2 21.2M2051.1 1702l21.2 -21.2M2051.6 1691.4h29M2065.4 1676.9v29M2055.5 1680.8l21.2 21.2M2055.5 1702l21.2 -21.2M2056.1 1690.4h29M2069.9 1675.9v29M2060 1679.8l21.2 21.2M2060 1701l21.2 -21.2M2060.5 1690.4h29M2074.3 1675.9v29M2064.4 1679.8l21.2 21.2M2064.4 1701l21.2 -21.2M2065 1690.4h29M2078.8 1675.9v29M2068.9 1679.8l21.2 21.2M2068.9 1701l21.2 -21.2M2069.4 1691.4h29M2083.2 1676.9v29M2073.3 1680.8l21.2 21.2M2073.3 1702l21.2 -21.2M2073.9 1690.4h29M2087.7 1675.9v29M2077.8 1679.8l21.2 21.2M2077.8 1701l21.2 -21.2M2078.3 1691.4h29M2092.1 1676.9v29M2082.2 1680.8l21.2 21.2M2082.2 1702l21.2 -21.2M2082.8 1690.4h29M2096.6 1675.9v29M2086.7 1679.8l21.2 21.2M2086.7 1701l21.2 -21.2M2087.2 1691.4h29M2101 1676.9v29M2091.1 1680.8l21.2 21.2M2091.1 1702l21.2 -21.2M2091.7 1691.4h29M2105.5 1676.9v29M2095.6 1680.8l21.2 21.2M2095.6 1702l21.2 -21.2M2096.1 1690.4h29M2109.9 1675.9v29M2100 1679.8l21.2 21.2M2100 1701l21.2 -21.2M2100.6 1691.4h29M2114.4 1676.9v29M2104.5 1680.8l21.2 21.2M2104.5 1702l21.2 -21.2M2105 1691.4h29M2118.8 1676.9v29M2108.9 1680.8l21.2 21.2M2108.9 1702l21.2 -21.2M2109.5 1691.4h29M2123.3 1676.9v29M2113.4 1680.8l21.2 21.2M2113.4 1702l21.2 -21.2M2113.9 1691.4h29M2127.7 1676.9v29M2117.8 1680.8l21.2 21.2M2117.8 1702l21.2 -21.2M2118.4 1691.4h29M2132.2 1676.9v29M2122.3 1680.8l21.2 21.2M2122.3 1702l21.2 -21.2M2122.8 1690.4h29M2136.6 1675.9v29M2126.7 1679.8l21.2 21.2M2126.7 1701l21.2 -21.2M2127.3 1691.4h29M2141.1 1676.9v29M2131.2 1680.8l21.2 21.2M2131.2 1702l21.2 -21.2M2131.7 1691.4h29M2145.5 1676.9v29M2135.6 1680.8l21.2 21.2M2135.6 1702l21.2 -21.2M2136.2 1691.4h29M2150 1676.9v29M2140.1 1680.8l21.2 21.2M2140.1 1702l21.2 -21.2M2140.6 1691.4h29M2154.4 1676.9v29M2144.5 1680.8l21.2 21.2M2144.5 1702l21.2 -21.2M2145.1 1691.4h29M2158.9 1676.9v29M2149 1680.8l21.2 21.2M2149 1702l21.2 -21.2M2149.5 1692.4h29M2163.3 1677.9v29M2153.4 1681.8l21.2 21.2M2153.4 1703l21.2 -21.2M2154 1691.4h29M2167.8 1676.9v29M2157.9 1680.8l21.2 21.2M2157.9 1702l21.2 -21.2M2158.4 1691.4h29M2172.2 1676.9v29M2162.3 1680.8l21.2 21.2M2162.3 1702l21.2 -21.2M2162.8 1579.5h29M2176.6 1565v29M2166.7 1568.9l21.2 21.2M2166.7 1590.1l21.2 -21.2M2167.3 1691.4h29M2181.1 1676.9v29M2171.2 1680.8l21.2 21.2M2171.2 1702l21.2 -21.2M2171.7 1691.4h29M2185.5 1676.9v29M2175.6 1680.8l21.2 21.2M2175.6 1702l21.2 -21.2M2176.2 1690.4h29M2190 1675.9v29M2180.1 1679.8l21.2 21.2M2180.1 1701l21.2 -21.2M2180.6 1691.4h29M2194.4 1676.9v29M2184.5 1680.8l21.2 21.2M2184.5 1702l21.2 -21.2M2185.1 1691.4h29M2198.9 1676.9v29M2189 1680.8l21.2 21.2M2189 1702l21.2 -21.2M2189.5 1691.4h29M2203.3 1676.9v29M2193.4 1680.8l21.2 21.2M2193.4 1702l21.2 -21.2M2194 1691.4h29M2207.8 1676.9v29M2197.9 1680.8l21.2 21.2M2197.9 1702l21.2 -21.2M2198.4 1691.4h29M2212.2 1676.9v29M2202.3 1680.8l21.2 21.2M2202.3 1702l21.2 -21.2M2202.9 1690.4h29M2216.7 1675.9v29M2206.8 1679.8l21.2 21.2M2206.8 1701l21.2 -21.2M2207.3 1691.4h29M2221.1 1676.9v29M2211.2 1680.8l21.2 21.2M2211.2 1702l21.2 -21.2M2211.8 1692.4h29M2225.6 1677.9v29M2215.7 1681.8l21.2 21.2M2215.7 1703l21.2 -21.2M2216.2 1691.4h29M2230 1676.9v29M2220.1 1680.8l21.2 21.2M2220.1 1702l21.2 -21.2M2220.7 1691.4h29M2234.5 1676.9v29M2224.6 1680.8l21.2 21.2M2224.6 1702l21.2 -21.2M2225.1 1684h29M2238.9 1669.5v29M2229 1673.4l21.2 21.2M2229 1694.6l21.2 -21.2M2229.6 1672h29M2243.4 1657.5v29M2233.5 1661.4l21.2 21.2M2233.5 1682.6l21.2 -21.2M2234 1681h29M2247.8 1666.5v29M2237.9 1670.4l21.2 21.2M2237.9 1691.6l21.2 -21.2M2238.5 1686h29M2252.3 1671.5v29M2242.4 1675.4l21.2 21.2M2242.4 1696.6l21.2 -21.2M2242.9 1691.4h29M2256.7 1676.9v29M2246.8 1680.8l21.2 21.2M2246.8 1702l21.2 -21.2M2247.4 1691.4h29M2261.2 1676.9v29M2251.3 1680.8l21.2 21.2M2251.3 1702l21.2 -21.2M2251.8 1691.4h29M2265.6 1676.9v29M2255.7 1680.8l21.2 21.2M2255.7 1702l21.2 -21.2M2256.3 1691.4h29M2270.1 1676.9v29M2260.2 1680.8l21.2 21.2M2260.2 1702l21.2 -21.2M2260.7 1690.4h29M2274.5 1675.9v29M2264.6 1679.8l21.2 21.2M2264.6 1701l21.2 -21.2M2265.2 1691.4h29M2279 1676.9v29M2269.1 1680.8l21.2 21.2M2269.1 1702l21.2 -21.2M2269.6 1691.4h29M2283.4 1676.9v29M2273.5 1680.8l21.2 21.2M2273.5 1702l21.2 -21.2M2274.1 1691.4h29M2287.9 1676.9v29M2278 1680.8l21.2 21.2M2278 1702l21.2 -21.2M2278.5 1691.4h29M2292.3 1676.9v29M2282.4 1680.8l21.2 21.2M2282.4 1702l21.2 -21.2M2283 1691.4h29M2296.8 1676.9v29M2286.9 1680.8l21.2 21.2M2286.9 1702l21.2 -21.2M2287.4 1691.4h29M2301.2 1676.9v29M2291.3 1680.8l21.2 21.2M2291.3 1702l21.2 -21.2M2291.8 1690.4h29M2305.6 1675.9v29M2295.7 1679.8l21.2 21.2M2295.7 1701l21.2 -21.2M2296.3 1692.4h29M2310.1 1677.9v29M2300.2 1681.8l21.2 21.2M2300.2 1703l21.2 -21.2M2300.7 1690.4h29M2314.5 1675.9v29M2304.6 1679.8l21.2 21.2M2304.6 1701l21.2 -21.2M2305.2 1691.4h29M2319 1676.9v29M2309.1 1680.8l21.2 21.2M2309.1 1702l21.2 -21.2M2309.6 1589h29M2323.4 1574.5v29M2313.5 1578.4l21.2 21.2M2313.5 1599.6l21.2 -21.2M2314.1 1691.4h29M2327.9 1676.9v29M2318 1680.8l21.2 21.2M2318 1702l21.2 -21.2M2318.5 1690.4h29M2332.3 1675.9v29M2322.4 1679.8l21.2 21.2M2322.4 1701l21.2 -21.2M2323 1690.4h29M2336.8 1675.9v29M2326.9 1679.8l21.2 21.2M2326.9 1701l21.2 -21.2M2327.4 1690.4h29M2341.2 1675.9v29M2331.3 1679.8l21.2 21.2M2331.3 1701l21.2 -21.2M2331.9 1691.4h29M2345.7 1676.9v29M2335.8 1680.8l21.2 21.2M2335.8 1702l21.2 -21.2M2336.3 1691.4h29M2350.1 1676.9v29M2340.2 1680.8l21.2 21.2M2340.2 1702l21.2 -21.2M2340.8 1691.4h29M2354.6 1676.9v29M2344.7 1680.8l21.2 21.2M2344.7 1702l21.2 -21.2M2345.2 1691.4h29M2359 1676.9v29M2349.1 1680.8l21.2 21.2M2349.1 1702l21.2 -21.2M2349.7 1691.4h29M2363.5 1676.9v29M2353.6 1680.8l21.2 21.2M2353.6 1702l21.2 -21.2M2354.1 1552.5h29M2367.9 1538v29M2358 1541.9l21.2 21.2M2358 1563.1l21.2 -21.2M2358.6 1691.4h29M2372.4 1676.9v29M2362.5 1680.8l21.2 21.2M2362.5 1702l21.2 -21.2M2363 1690.4h29M2376.8 1675.9v29M2366.9 1679.8l21.2 21.2M2366.9 1701l21.2 -21.2M2367.5 1691.4h29M2381.3 1676.9v29M2371.4 1680.8l21.2 21.2M2371.4 1702l21.2 -21.2M2371.9 1690.4h29M2385.7 1675.9v29M2375.8 1679.8l21.2 21.2M2375.8 1701l21.2 -21.2M2376.4 1691.4h29M2390.2 1676.9v29M2380.3 1680.8l21.2 21.2M2380.3 1702l21.2 -21.2M2380.8 1691.4h29M2394.6 1676.9v29M2384.7 1680.8l21.2 21.2M2384.7 1702l21.2 -21.2M2385.3 1691.4h29M2399.1 1676.9v29M2389.2 1680.8l21.2 21.2M2389.2 1702l21.2 -21.2M2389.7 1691.4h29M2403.5 1676.9v29M2393.6 1680.8l21.2 21.2M2393.6 1702l21.2 -21.2M1584.2 201.8h29M1598 187.2v29M1588.1 191.2l21.2 21.2M1588.1 212.3l21.2 -21.2M1776 265h29M1789.8 250.5v29M1779.9 254.4l21.2 21.2M1779.9 275.6l21.2 -21.2M1783.2 265.5h29M1797 251v29M1787.1 254.9l21.2 21.2M1787.1 276.1l21.2 -21.2M1801 263h29M1814.8 248.5v29M1804.9 252.4l21.2 21.2M1804.9 273.6l21.2 -21.2M1818.2 263h29M1832 248.5v29M1822.1 252.4l21.2 21.2M1822.1 273.6l21.2 -21.2M1863.2 261.8h29M1877 247.2v29M1867.1 251.2l21.2 21.2M1867.1 272.4l21.2 -21.2M1877 261.4h29M1890.8 246.9v29M1880.9 250.8l21.2 21.2M1880.9 272l21.2 -21.2M1971.2 204h29M1985 189.5v29M1975.1 193.4l21.2 21.2M1975.1 214.6l21.2 -21.2" fill="none" stroke="#00ff00" stroke-width="2" shape-rendering="crispEdges"/>
<rect x="1564" y="1585" width="608" height="257" fill="#fff" stroke="#000" stroke-width="2" shape-rendering="crispEdges"/>
<circle cx="1665.4" cy="1633.5" r="4.4" fill="#0000ff"/>
<path d="M1650.8 1713h29M1664.6 1698.5v29M1654.7 1702.4l21.2 21.2M1654.7 1723.6l21.2 -21.2" fill="none" stroke="#ff0000" stroke-width="2" shape-rendering="crispEdges"/>
<path d="M1650.8 1793h29M1664.6 1778.5v29M1654.7 1782.4l21.2 21.2M1654.7 1803.6l21.2 -21.2" fill="none" stroke="#00ff00" stroke-width="2" shape-rendering="crispEdges"/>
<text transform="translate(1755 1649) scale(0.918 1)" text-anchor="start">pressure data (db)</text>
<text transform="translate(1755 1729.4) scale(0.918 1)" text-anchor="start">End of profile</text>
<text transform="translate(1755 1809) scale(0.918 1)" text-anchor="start">Profile beginning</text>
<text transform="translate(1448.5 129.8) scale(0.918 1)" text-anchor="middle">Beginning and end of CTD profile IAOOS 024 TEC 18</text>
<text transform="translate(364 1921) scale(0.918 1)" text-anchor="middle">Apr</text>
<text transform="translate(630.8 1921) scale(0.918 1)" text-anchor="middle">May</text>
<text transform="translate(906.5 1921) scale(0.918 1)" text-anchor="middle">Jun</text>
<text transform="translate(1173.3 1921) scale(0.918 1)" text-anchor="middle">Jul</text>
<text transform="translate(1449 1921) scale(0.918 1)" text-anchor="middle">Aug</text>
<text transform="translate(1724.7 1921) scale(0.918 1)" text-anchor="middle">Sep</text>
<text transform="translate(1991.5 1921) scale(0.918 1)" text-anchor="middle">Oct</text>
<text transform="translate(2267.2 1921) scale(0.918 1)" text-anchor="middle">Nov</text>
<text transform="translate(2534 1921) scale(0.918 1)" text-anchor="middle">Dec</text>
<text transform="translate(349 172) scale(0.918 1)" text-anchor="end">0</text>
<text transform="translate(349 386) scale(0.918 1)" text-anchor="end">-50</text>
<text transform="translate(349 600) scale(0.918 1)" text-anchor="end">-100</text>
<text transform="translate(349 814) scale(0.918 1)" text-anchor="end">-150</text>
<text transform="translate(349 1028) scale(0.918 1)" text-anchor="end">-200</text>
<text transform="translate(349 1242) scale(0.918 1)" text-anchor="end">-250</text>
<text transform="translate(349 1456) scale(0.918 1)" text-anchor="end">-300</text>
<text transform="translate(349 1670) scale(0.918 1)" text-anchor="end">-350</text>
<text transform="translate(349 1884) scale(0.918 1)" text-anchor="end">-400</text>
<text transform="translate(256 1020) rotate(-90) scale(0.918 1)" text-anchor="middle">Pressure(db)</text>
</svg></body></html>
